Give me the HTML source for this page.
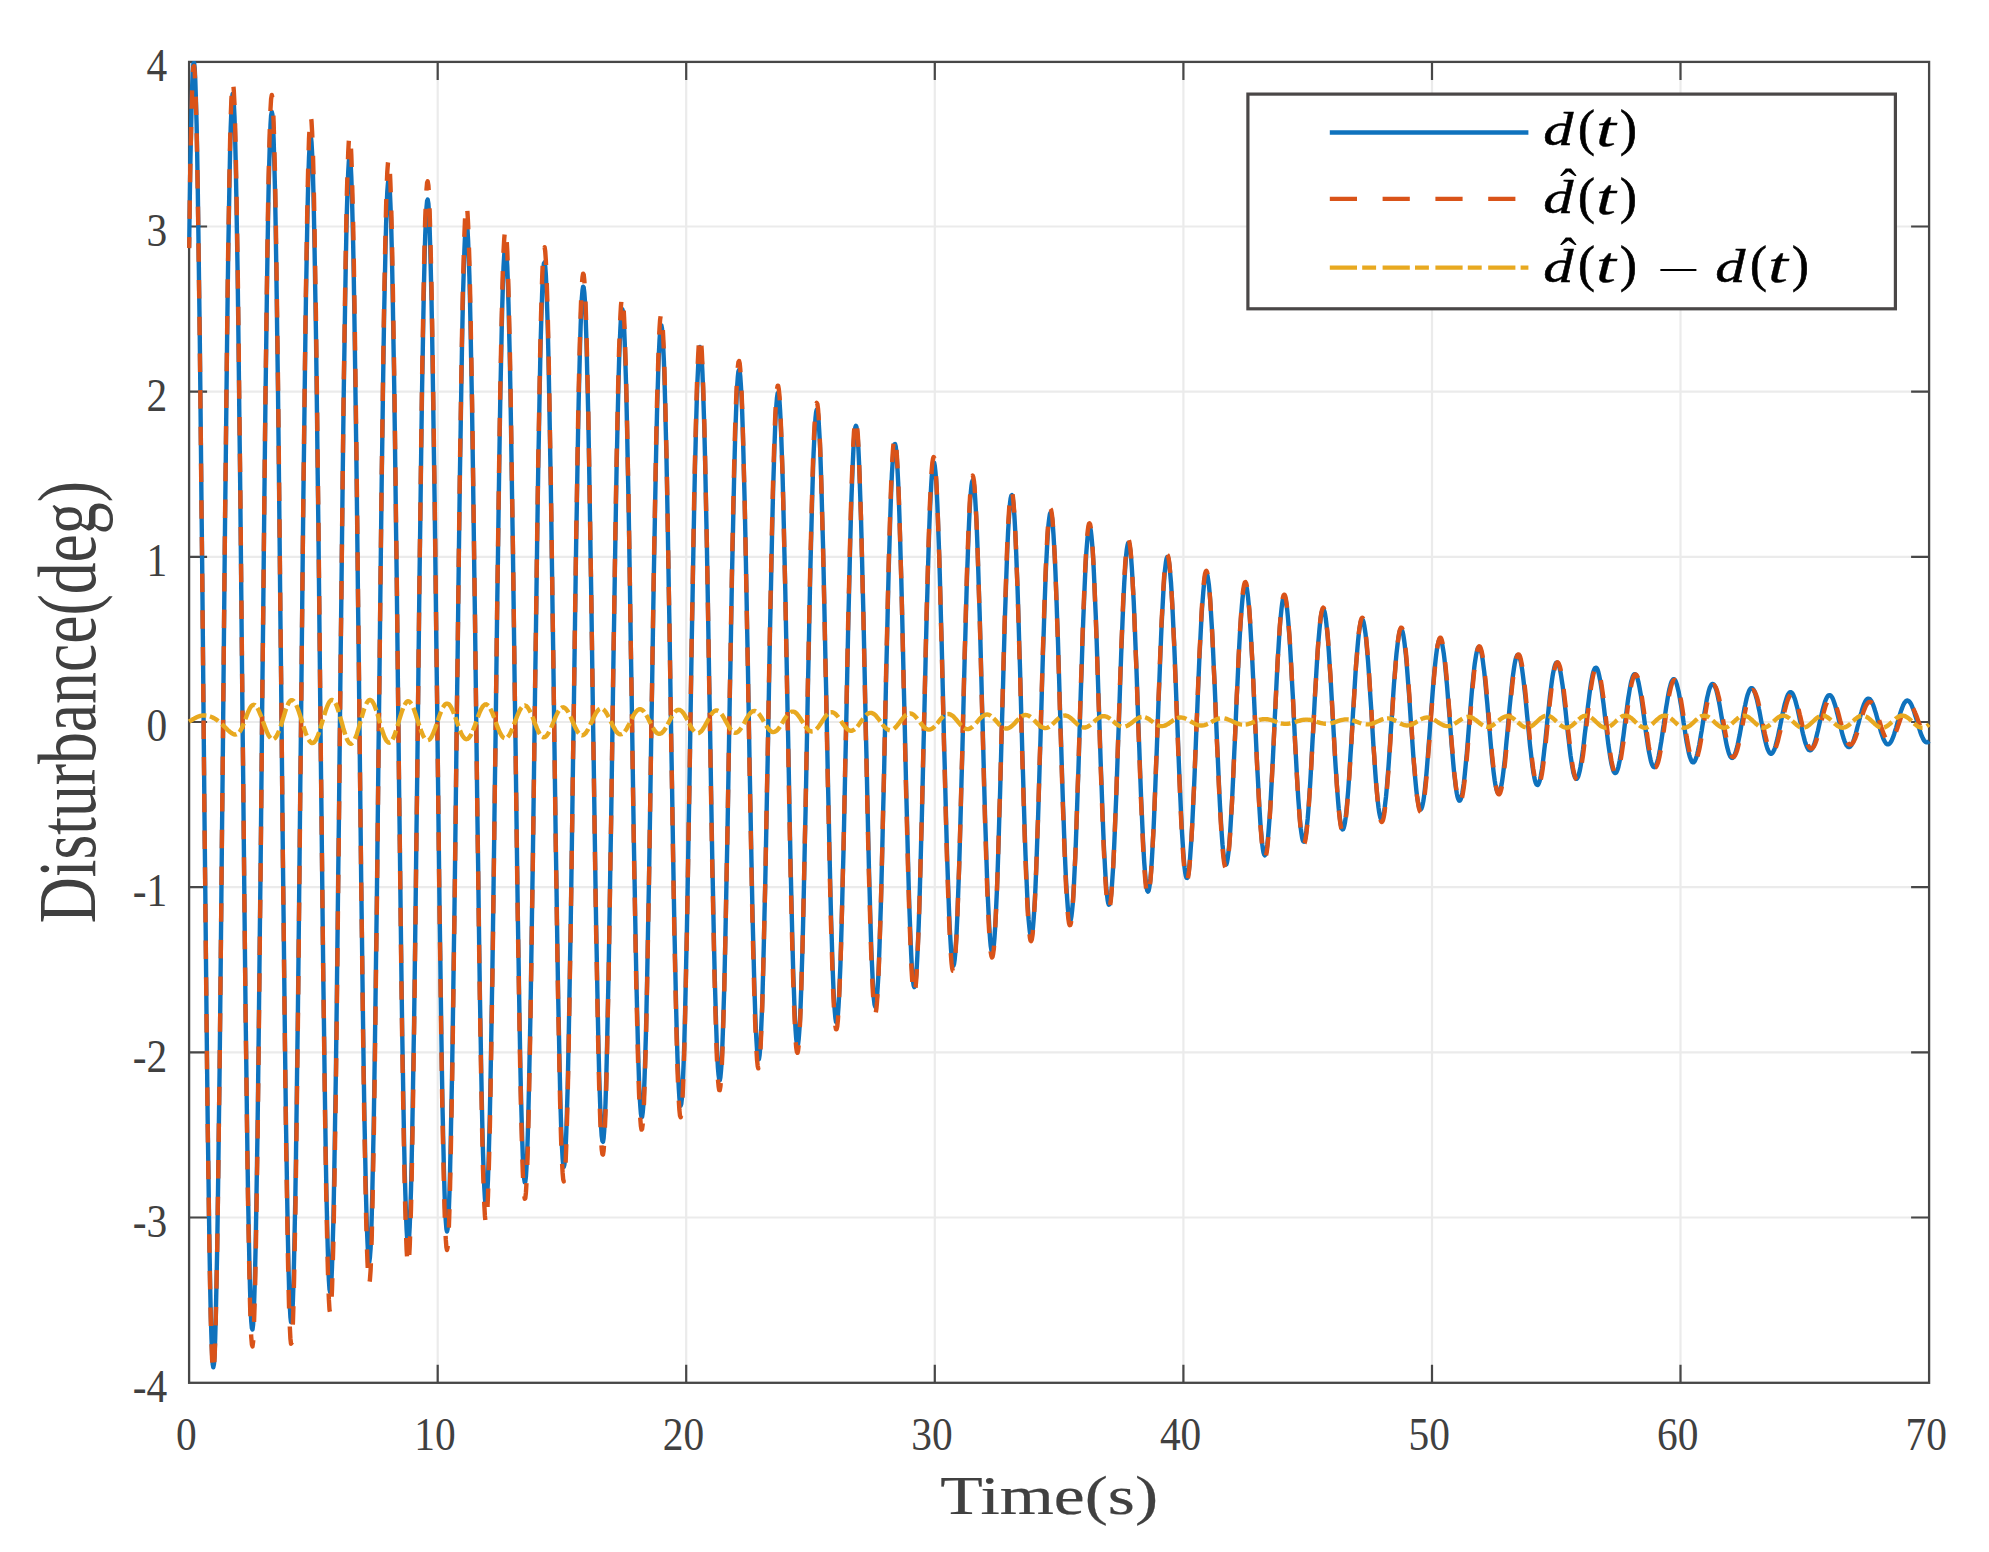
<!DOCTYPE html>
<html lang="en"><head><meta charset="utf-8"><title>Disturbance estimation</title>
<style>html,body{margin:0;padding:0;background:#fff}body{width:1989px;height:1552px;overflow:hidden}svg{display:block}.tk{font-family:"Liberation Serif",serif;font-size:46px;fill:#404040}.lb{font-family:"Liberation Serif",serif;fill:#404040}.mi{font-family:"Liberation Serif",serif;font-style:italic;fill:#000}.mr{font-family:"Liberation Serif",serif;fill:#000}</style></head><body>
<svg width="1989" height="1552" viewBox="0 0 1989 1552">
<rect width="1989" height="1552" fill="#fff"/>
<path d="M437.7 61.9V1382.8M686.2 61.9V1382.8M934.8 61.9V1382.8M1183.4 61.9V1382.8M1432.0 61.9V1382.8M1680.5 61.9V1382.8M189.1 1217.5H1929.1M189.1 1052.3H1929.1M189.1 887.1H1929.1M189.1 722.0H1929.1M189.1 556.9H1929.1M189.1 391.7H1929.1M189.1 226.5H1929.1" stroke="#ebebeb" stroke-width="2.2" fill="none"/>
<path d="M437.7 1382.8v-18M437.7 61.9v18M686.2 1382.8v-18M686.2 61.9v18M934.8 1382.8v-18M934.8 61.9v18M1183.4 1382.8v-18M1183.4 61.9v18M1432.0 1382.8v-18M1432.0 61.9v18M1680.5 1382.8v-18M1680.5 61.9v18M189.1 1217.5h18M1929.1 1217.5h-18M189.1 1052.3h18M1929.1 1052.3h-18M189.1 887.1h18M1929.1 887.1h-18M189.1 722.0h18M1929.1 722.0h-18M189.1 556.9h18M1929.1 556.9h-18M189.1 391.7h18M1929.1 391.7h-18M189.1 226.5h18M1929.1 226.5h-18" stroke="#474747" stroke-width="2.2" fill="none"/>
<rect x="189.1" y="61.9" width="1740.0" height="1320.9" fill="none" stroke="#474747" stroke-width="2.3"/>
<clipPath id="ax"><rect x="187.1" y="60.9" width="1744.0" height="1322.9"/></clipPath>
<g clip-path="url(#ax)" fill="none" stroke-linejoin="round">
<path d="M189.1 247.8L189.7 204.1L190.3 165.7L191.0 133.0L191.6 106.2L192.2 85.6L192.8 71.4L193.4 63.8L194.1 62.8L194.7 68.4L195.3 80.5L195.9 99.1L196.6 123.9L197.2 154.7L197.8 191.1L198.4 232.8L199.0 279.3L199.7 330.2L200.3 385.0L200.9 443.1L201.5 503.9L202.2 566.8L202.8 631.2L203.4 696.4L204.0 761.8L204.6 826.6L205.3 890.4L205.9 952.4L206.5 1011.9L207.1 1068.5L207.7 1121.5L208.4 1170.5L209.0 1214.8L209.6 1254.2L210.2 1288.1L210.8 1316.3L211.5 1338.6L212.1 1354.5L212.7 1364.1L213.3 1367.3L214.0 1363.9L214.6 1354.1L215.2 1338.0L215.8 1315.7L216.4 1287.5L217.1 1253.6L217.7 1214.5L218.3 1170.5L218.9 1122.1L219.6 1069.7L220.2 1013.9L220.8 955.3L221.4 894.4L222.0 831.9L222.7 768.4L223.3 704.6L223.9 641.0L224.5 578.3L225.1 517.2L225.8 458.3L226.4 402.1L227.0 349.2L227.6 300.2L228.2 255.5L228.9 215.5L229.5 180.7L230.1 151.4L230.7 127.9L231.4 110.4L232.0 99.1L232.6 94.0L233.2 95.3L233.8 102.9L234.5 116.7L235.1 136.7L235.7 162.4L236.3 193.8L236.9 230.4L237.6 271.8L238.2 317.7L238.8 367.5L239.4 420.7L240.1 476.8L240.7 535.2L241.3 595.3L241.9 656.5L242.5 718.2L243.2 779.8L243.8 840.6L244.4 900.1L245.0 957.6L245.6 1012.7L246.3 1064.8L246.9 1113.3L247.5 1157.8L248.1 1198.0L248.8 1233.3L249.4 1263.5L250.0 1288.3L250.6 1307.4L251.2 1320.8L251.9 1328.2L252.5 1329.5L253.1 1324.8L253.7 1314.1L254.3 1297.4L255.0 1275.0L255.6 1247.0L256.2 1213.7L256.8 1175.5L257.5 1132.8L258.1 1085.9L258.7 1035.3L259.3 981.6L259.9 925.3L260.6 866.9L261.2 807.0L261.8 746.2L262.4 685.2L263.1 624.5L263.7 564.8L264.3 506.6L264.9 450.6L265.5 397.3L266.2 347.3L266.8 301.0L267.4 258.9L268.0 221.5L268.6 189.0L269.3 162.0L269.9 140.6L270.5 125.0L271.1 115.4L271.8 111.9L272.4 114.6L273.0 123.5L273.6 138.3L274.2 159.1L274.9 185.5L275.5 217.3L276.1 254.2L276.7 295.7L277.3 341.6L278.0 391.2L278.6 444.1L279.2 499.8L279.8 557.6L280.4 617.1L281.1 677.5L281.7 738.3L282.3 798.9L282.9 858.6L283.6 916.8L284.2 973.1L284.8 1026.7L285.4 1077.2L286.0 1124.0L286.7 1166.8L287.3 1205.0L287.9 1238.3L288.5 1266.4L289.1 1289.1L289.8 1305.9L290.4 1317.0L291.0 1322.0L291.6 1321.0L292.3 1314.0L292.9 1301.0L293.5 1282.3L294.1 1257.9L294.7 1228.2L295.4 1193.4L296.0 1154.0L296.6 1110.2L297.2 1062.7L297.9 1011.8L298.5 958.0L299.1 902.0L299.7 844.3L300.3 785.4L301.0 726.0L301.6 666.6L302.2 607.9L302.8 550.5L303.4 494.9L304.1 441.6L304.7 391.3L305.3 344.3L305.9 301.3L306.6 262.5L307.2 228.4L307.8 199.3L308.4 175.6L309.0 157.3L309.7 144.7L310.3 137.9L310.9 137.0L311.5 142.0L312.1 152.8L312.8 169.4L313.4 191.4L314.0 218.7L314.6 251.1L315.2 288.1L315.9 329.4L316.5 374.5L317.1 423.1L317.7 474.6L318.4 528.4L319.0 584.1L319.6 641.1L320.2 698.7L320.8 756.5L321.5 813.9L322.1 870.2L322.7 924.9L323.3 977.5L324.0 1027.5L324.6 1074.3L325.2 1117.5L325.8 1156.7L326.4 1191.5L327.1 1221.5L327.7 1246.5L328.3 1266.3L328.9 1280.6L329.5 1289.3L330.2 1292.3L330.8 1289.6L331.4 1281.2L332.0 1267.2L332.6 1247.8L333.3 1223.2L333.9 1193.5L334.5 1159.1L335.1 1120.3L335.8 1077.6L336.4 1031.3L337.0 982.0L337.6 930.0L338.2 876.0L338.9 820.4L339.5 763.9L340.1 707.0L340.7 650.3L341.4 594.3L342.0 539.6L342.6 486.8L343.2 436.3L343.8 388.8L344.5 344.6L345.1 304.2L345.7 268.1L346.3 236.5L346.9 209.9L347.6 188.4L348.2 172.3L348.8 161.8L349.4 156.9L350.1 157.7L350.7 164.3L351.3 176.6L351.9 194.4L352.5 217.6L353.2 245.9L353.8 278.9L354.4 316.3L355.0 357.7L355.6 402.6L356.3 450.6L356.9 501.1L357.5 553.7L358.1 607.7L358.8 662.7L359.4 718.0L360.0 773.1L360.6 827.5L361.2 880.7L361.9 932.0L362.5 981.0L363.1 1027.3L363.7 1070.4L364.3 1109.9L365.0 1145.5L365.6 1176.7L366.2 1203.4L366.8 1225.3L367.5 1242.3L368.1 1254.0L368.7 1260.6L369.3 1261.9L369.9 1257.7L370.6 1248.3L371.2 1233.5L371.8 1213.6L372.4 1188.8L373.0 1159.3L373.7 1125.4L374.3 1087.5L374.9 1045.8L375.5 1000.9L376.1 953.2L376.8 903.2L377.4 851.3L378.0 798.1L378.6 744.1L379.3 689.8L379.9 635.9L380.5 582.8L381.1 531.1L381.7 481.3L382.4 433.9L383.0 389.3L383.6 348.1L384.2 310.7L384.9 277.3L385.5 248.5L386.1 224.4L386.7 205.3L387.3 191.4L388.0 182.8L388.6 179.7L389.2 182.0L389.8 189.9L390.4 203.3L391.1 221.9L391.7 245.6L392.3 274.2L392.9 307.2L393.5 344.3L394.2 385.2L394.8 429.4L395.4 476.4L396.0 525.7L396.7 576.8L397.3 629.2L397.9 682.4L398.5 735.7L399.1 788.8L399.8 841.0L400.4 891.8L401.0 940.7L401.6 987.3L402.2 1031.1L402.9 1071.7L403.5 1108.7L404.1 1141.8L404.7 1170.6L405.4 1195.0L406.0 1214.6L406.6 1229.4L407.2 1239.1L407.8 1243.8L408.5 1243.3L409.1 1237.6L409.7 1226.7L410.3 1210.7L411.0 1189.9L411.6 1164.3L412.2 1134.3L412.8 1100.2L413.4 1062.3L414.1 1020.9L414.7 976.5L415.3 929.6L415.9 880.6L416.5 830.0L417.2 778.3L417.8 726.0L418.4 673.7L419.0 621.9L419.6 571.1L420.3 521.8L420.9 474.5L421.5 429.7L422.1 387.8L422.8 349.3L423.4 314.5L424.0 283.8L424.6 257.5L425.2 235.9L425.9 219.1L426.5 207.4L427.1 200.9L427.7 199.6L428.4 203.6L429.0 212.9L429.6 227.3L430.2 246.7L430.8 270.9L431.5 299.7L432.1 332.7L432.7 369.6L433.3 410.0L433.9 453.4L434.6 499.6L435.2 547.8L435.8 597.8L436.4 648.9L437.1 700.6L437.7 752.4L438.3 803.9L438.9 854.4L439.5 903.4L440.2 950.6L440.8 995.3L441.4 1037.2L442.0 1075.9L442.6 1110.9L443.3 1141.9L443.9 1168.8L444.5 1191.0L445.1 1208.6L445.8 1221.3L446.4 1228.9L447.0 1231.5L447.6 1229.0L448.2 1221.4L448.9 1208.8L449.5 1191.4L450.1 1169.3L450.7 1142.7L451.3 1111.9L452.0 1077.3L452.6 1039.1L453.2 997.8L453.8 953.8L454.5 907.6L455.1 859.5L455.7 810.0L456.3 759.8L456.9 709.2L457.6 658.8L458.2 609.2L458.8 560.7L459.4 513.8L460.0 469.2L460.7 427.1L461.3 388.0L461.9 352.4L462.5 320.5L463.1 292.7L463.8 269.2L464.4 250.4L465.0 236.3L465.6 227.1L466.3 222.9L466.9 223.7L467.5 229.5L468.1 240.4L468.7 256.0L469.4 276.3L470.0 301.1L470.6 330.0L471.2 362.9L471.9 399.2L472.5 438.8L473.1 481.1L473.7 525.7L474.3 572.1L475.0 620.0L475.6 668.8L476.2 717.9L476.8 767.0L477.4 815.6L478.1 863.0L478.7 909.0L479.3 952.9L479.9 994.5L480.6 1033.2L481.2 1068.8L481.8 1100.8L482.4 1128.9L483.0 1152.9L483.7 1172.6L484.3 1187.7L484.9 1198.2L485.5 1203.9L486.1 1204.8L486.8 1200.9L487.4 1192.2L488.0 1178.8L488.6 1160.8L489.2 1138.5L489.9 1112.0L490.5 1081.6L491.1 1047.6L491.7 1010.5L492.4 970.4L493.0 927.9L493.6 883.4L494.2 837.2L494.8 790.0L495.5 742.1L496.1 694.0L496.7 646.3L497.3 599.3L498.0 553.6L498.6 509.7L499.2 467.9L499.8 428.7L500.4 392.4L501.1 359.5L501.7 330.3L502.3 305.1L502.9 284.1L503.5 267.5L504.2 255.5L504.8 248.2L505.4 245.7L506.0 248.0L506.6 255.1L507.3 267.0L507.9 283.4L508.5 304.2L509.1 329.2L509.8 358.1L510.4 390.6L511.0 426.4L511.6 465.0L512.2 506.2L512.9 549.3L513.5 594.1L514.1 640.1L514.7 686.7L515.4 733.6L516.0 780.2L516.6 826.1L517.2 870.8L517.8 914.0L518.5 955.1L519.1 993.8L519.7 1029.7L520.3 1062.4L520.9 1091.7L521.6 1117.3L522.2 1138.9L522.8 1156.3L523.4 1169.4L524.1 1178.1L524.7 1182.2L525.3 1181.8L525.9 1176.8L526.5 1167.2L527.2 1153.1L527.8 1134.7L528.4 1112.2L529.0 1085.8L529.6 1055.7L530.3 1022.3L530.9 985.8L531.5 946.7L532.1 905.4L532.8 862.2L533.4 817.6L534.0 772.1L534.6 726.0L535.2 680.0L535.9 634.3L536.5 589.5L537.1 546.1L537.7 504.4L538.3 465.0L539.0 428.1L539.6 394.1L540.2 363.5L540.8 336.5L541.5 313.3L542.1 294.3L542.7 279.5L543.3 269.2L543.9 263.5L544.6 262.4L545.2 265.9L545.8 274.1L546.4 286.8L547.0 303.9L547.7 325.2L548.3 350.6L548.9 379.6L549.5 412.0L550.1 447.6L550.8 485.8L551.4 526.3L552.0 568.7L552.6 612.6L553.3 657.4L553.9 702.8L554.5 748.2L555.1 793.3L555.7 837.5L556.4 880.4L557.0 921.7L557.6 960.8L558.2 997.4L558.9 1031.2L559.5 1061.8L560.1 1088.9L560.7 1112.2L561.3 1131.7L562.0 1147.0L562.6 1158.0L563.2 1164.7L563.8 1166.9L564.4 1164.7L565.1 1158.1L565.7 1147.1L566.3 1131.9L566.9 1112.6L567.6 1089.4L568.2 1062.6L568.8 1032.4L569.4 999.1L570.0 963.1L570.7 924.7L571.3 884.3L571.9 842.4L572.5 799.3L573.1 755.4L573.8 711.3L574.4 667.4L575.0 624.0L575.6 581.7L576.2 540.8L576.9 501.8L577.5 465.1L578.1 431.0L578.7 399.9L579.4 372.1L580.0 347.8L580.6 327.3L581.2 310.8L581.8 298.5L582.5 290.4L583.1 286.7L583.7 287.4L584.3 292.5L585.0 301.9L585.6 315.6L586.2 333.3L586.8 354.9L587.4 380.1L588.1 408.7L588.7 440.4L589.3 474.8L589.9 511.7L590.5 550.5L591.2 591.0L591.8 632.7L592.4 675.2L593.0 718.0L593.7 760.8L594.3 803.0L594.9 844.4L595.5 884.4L596.1 922.6L596.8 958.8L597.4 992.5L598.0 1023.4L598.6 1051.3L599.2 1075.7L599.9 1096.6L600.5 1113.8L601.1 1126.9L601.7 1136.0L602.4 1141.0L603.0 1141.8L603.6 1138.4L604.2 1130.8L604.8 1119.1L605.5 1103.5L606.1 1084.1L606.7 1061.1L607.3 1034.7L607.9 1005.2L608.6 972.9L609.2 938.1L609.8 901.2L610.4 862.5L611.1 822.5L611.7 781.5L612.3 739.9L612.9 698.1L613.5 656.7L614.2 615.9L614.8 576.2L615.4 538.1L616.0 501.8L616.6 467.8L617.3 436.3L617.9 407.8L618.5 382.5L619.1 360.6L619.8 342.4L620.4 328.0L621.0 317.6L621.6 311.3L622.2 309.1L622.9 311.1L623.5 317.3L624.1 327.7L624.7 341.9L625.3 360.1L626.0 381.8L626.6 406.9L627.2 435.1L627.8 466.1L628.5 499.6L629.1 535.2L629.7 572.5L630.3 611.2L630.9 650.9L631.6 691.2L632.2 731.6L632.8 771.7L633.4 811.2L634.0 849.7L634.7 886.8L635.3 922.1L635.9 955.3L636.5 986.1L637.2 1014.2L637.8 1039.4L638.4 1061.3L639.0 1079.8L639.6 1094.8L640.3 1106.1L640.9 1113.6L641.5 1117.2L642.1 1116.9L642.7 1112.7L643.4 1104.5L644.0 1092.5L644.6 1076.8L645.2 1057.5L645.9 1034.9L646.5 1009.1L647.1 980.4L647.7 949.2L648.3 915.6L649.0 880.1L649.6 843.0L650.2 804.7L650.8 765.5L651.4 725.9L652.1 686.2L652.7 646.9L653.3 608.3L653.9 570.9L654.6 534.9L655.2 500.9L655.8 469.0L656.4 439.7L657.0 413.2L657.7 389.8L658.3 369.8L658.9 353.3L659.5 340.5L660.1 331.5L660.8 326.5L661.4 325.4L662.0 328.4L662.6 335.4L663.2 346.3L663.9 361.0L664.5 379.3L665.1 401.1L665.7 426.2L666.4 454.2L667.0 484.8L667.6 517.8L668.2 552.7L668.8 589.3L669.5 627.2L670.1 665.8L670.7 705.0L671.3 744.2L672.0 783.1L672.6 821.3L673.2 858.3L673.8 893.9L674.4 927.7L675.1 959.3L675.7 988.4L676.3 1014.8L676.9 1038.2L677.5 1058.4L678.2 1075.2L678.8 1088.4L679.4 1097.9L680.0 1103.7L680.7 1105.7L681.3 1103.8L681.9 1098.1L682.5 1088.7L683.1 1075.6L683.8 1059.0L684.4 1039.0L685.0 1015.9L685.6 989.9L686.2 961.2L686.9 930.2L687.5 897.1L688.1 862.3L688.7 826.2L689.4 789.0L690.0 751.2L690.6 713.2L691.2 675.3L691.8 637.9L692.5 601.4L693.1 566.2L693.7 532.5L694.3 500.9L694.9 471.5L695.6 444.6L696.2 420.6L696.8 399.6L697.4 382.0L698.1 367.7L698.7 357.1L699.3 350.2L699.9 347.0L700.5 347.6L701.2 352.0L701.8 360.1L702.4 371.9L703.0 387.2L703.6 405.8L704.3 427.6L704.9 452.3L705.5 479.6L706.1 509.3L706.8 541.0L707.4 574.4L708.0 609.2L708.6 645.0L709.2 681.5L709.9 718.2L710.5 754.9L711.1 791.0L711.7 826.4L712.3 860.6L713.0 893.3L713.6 924.2L714.2 953.0L714.8 979.4L715.5 1003.1L716.1 1024.0L716.7 1041.8L717.3 1056.3L717.9 1067.5L718.6 1075.3L719.2 1079.5L719.8 1080.2L720.4 1077.3L721.0 1070.9L721.7 1061.0L722.3 1047.7L722.9 1031.1L723.5 1011.5L724.2 989.0L724.8 963.9L725.4 936.4L726.0 906.7L726.6 875.2L727.3 842.2L727.9 808.1L728.5 773.1L729.1 737.6L729.7 702.0L730.4 666.6L731.0 631.8L731.6 598.0L732.2 565.4L732.9 534.5L733.5 505.4L734.1 478.6L734.7 454.2L735.3 432.5L736.0 413.8L736.6 398.2L737.2 385.9L737.8 377.0L738.4 371.6L739.1 369.7L739.7 371.4L740.3 376.6L740.9 385.3L741.6 397.4L742.2 412.8L742.8 431.2L743.4 452.6L744.0 476.6L744.7 503.0L745.3 531.5L745.9 561.9L746.5 593.7L747.1 626.8L747.8 660.8L748.4 695.2L749.0 729.8L749.6 764.3L750.3 798.2L750.9 831.2L751.5 863.0L752.1 893.3L752.7 921.8L753.4 948.3L754.0 972.4L754.6 993.9L755.2 1012.6L755.8 1028.4L756.5 1041.1L757.1 1050.5L757.7 1056.7L758.3 1059.6L759.0 1059.0L759.6 1055.1L760.2 1047.9L760.8 1037.4L761.4 1023.7L762.1 1007.1L762.7 987.6L763.3 965.5L763.9 941.1L764.5 914.4L765.2 885.9L765.8 855.8L766.4 824.4L767.0 792.0L767.7 759.0L768.3 725.6L768.9 692.3L769.5 659.3L770.1 627.0L770.8 595.7L771.4 565.7L772.0 537.3L772.6 510.9L773.2 486.5L773.9 464.6L774.5 445.3L775.1 428.8L775.7 415.2L776.4 404.8L777.0 397.5L777.6 393.5L778.2 392.8L778.8 395.4L779.5 401.3L780.1 410.4L780.7 422.6L781.3 437.8L781.9 455.8L782.6 476.4L783.2 499.5L783.8 524.8L784.4 552.1L785.1 581.0L785.7 611.3L786.3 642.7L786.9 674.9L787.5 707.5L788.2 740.2L788.8 772.7L789.4 804.6L790.0 835.7L790.6 865.6L791.3 894.1L791.9 920.8L792.5 945.4L793.1 967.8L793.8 987.7L794.4 1004.8L795.0 1019.1L795.6 1030.5L796.2 1038.6L796.9 1043.6L797.5 1045.4L798.1 1043.9L798.7 1039.1L799.3 1031.2L800.0 1020.1L800.6 1006.1L801.2 989.3L801.8 969.7L802.5 947.8L803.1 923.6L803.7 897.4L804.3 869.5L804.9 840.2L805.6 809.8L806.2 778.6L806.8 746.8L807.4 714.9L808.0 683.2L808.7 651.9L809.3 621.3L809.9 591.9L810.5 563.8L811.2 537.4L811.8 512.9L812.4 490.6L813.0 470.6L813.6 453.2L814.3 438.6L814.9 426.8L815.5 418.0L816.1 412.3L816.7 409.7L817.4 410.2L818.0 413.9L818.6 420.7L819.2 430.4L819.9 443.1L820.5 458.6L821.1 476.7L821.7 497.2L822.3 519.9L823.0 544.5L823.6 570.9L824.2 598.7L824.8 627.6L825.4 657.5L826.1 687.9L826.7 718.5L827.3 749.1L827.9 779.4L828.6 808.9L829.2 837.6L829.8 865.0L830.4 890.9L831.0 915.0L831.7 937.2L832.3 957.2L832.9 974.8L833.5 989.8L834.1 1002.1L834.8 1011.6L835.4 1018.2L836.0 1021.8L836.6 1022.5L837.3 1020.1L837.9 1014.8L838.5 1006.5L839.1 995.4L839.7 981.6L840.4 965.2L841.0 946.3L841.6 925.3L842.2 902.2L842.8 877.3L843.5 850.9L844.1 823.3L844.7 794.6L845.3 765.2L846.0 735.4L846.6 705.5L847.2 675.8L847.8 646.6L848.4 618.1L849.1 590.7L849.7 564.7L850.3 540.2L850.9 517.6L851.5 497.1L852.2 478.9L852.8 463.1L853.4 449.9L854.0 439.5L854.7 432.0L855.3 427.4L855.9 425.7L856.5 427.1L857.1 431.4L857.8 438.7L858.4 448.8L859.0 461.7L859.6 477.1L860.2 495.0L860.9 515.2L861.5 537.3L862.1 561.3L862.7 586.9L863.4 613.7L864.0 641.6L864.6 670.1L865.2 699.1L865.8 728.3L866.5 757.3L867.1 785.9L867.7 813.7L868.3 840.6L868.9 866.2L869.6 890.2L870.2 912.5L870.8 932.9L871.4 951.0L872.1 966.9L872.7 980.2L873.3 991.0L873.9 999.0L874.5 1004.3L875.2 1006.7L875.8 1006.3L876.4 1003.1L877.0 997.0L877.6 988.2L878.3 976.8L878.9 962.8L879.5 946.4L880.1 927.8L880.8 907.2L881.4 884.8L882.0 860.7L882.6 835.3L883.2 808.8L883.9 781.4L884.5 753.5L885.1 725.4L885.7 697.2L886.3 669.3L887.0 641.9L887.6 615.5L888.2 590.1L888.8 566.1L889.5 543.6L890.1 523.1L890.7 504.5L891.3 488.2L891.9 474.2L892.6 462.8L893.2 453.9L893.8 447.9L894.4 444.5L895.0 444.0L895.7 446.3L896.3 451.4L896.9 459.2L897.5 469.6L898.2 482.6L898.8 498.0L899.4 515.5L900.0 535.1L900.6 556.5L901.3 579.5L901.9 603.9L902.5 629.3L903.1 655.6L903.7 682.5L904.4 709.6L905.0 736.8L905.6 763.8L906.2 790.2L906.9 815.9L907.5 840.5L908.1 863.9L908.7 885.7L909.3 905.9L910.0 924.1L910.6 940.3L911.2 954.3L911.8 965.9L912.4 975.0L913.1 981.7L913.7 985.7L914.3 987.1L914.9 985.8L915.6 981.9L916.2 975.5L916.8 966.5L917.4 955.1L918.0 941.3L918.7 925.4L919.3 907.5L919.9 887.7L920.5 866.3L921.1 843.5L921.8 819.5L922.4 794.5L923.0 768.9L923.6 742.7L924.3 716.4L924.9 690.2L925.5 664.4L926.1 639.1L926.7 614.7L927.4 591.4L928.0 569.5L928.6 549.1L929.2 530.5L929.8 513.8L930.5 499.2L931.1 486.9L931.7 477.1L932.3 469.6L933.0 464.8L933.6 462.5L934.2 462.9L934.8 466.0L935.4 471.6L936.1 479.8L936.7 490.4L937.3 503.4L937.9 518.5L938.5 535.6L939.2 554.5L939.8 575.1L940.4 597.0L941.0 620.1L941.7 644.0L942.3 668.7L942.9 693.7L943.5 718.9L944.1 744.0L944.8 768.7L945.4 792.8L946.0 816.1L946.6 838.4L947.2 859.3L947.9 878.9L948.5 896.8L949.1 912.9L949.7 927.0L950.4 939.1L951.0 949.0L951.6 956.6L952.2 962.0L952.8 964.9L953.5 965.5L954.1 963.7L954.7 959.4L955.3 952.8L955.9 943.9L956.6 932.7L957.2 919.5L957.8 904.3L958.4 887.2L959.1 868.5L959.7 848.4L960.3 827.0L960.9 804.5L961.5 781.2L962.2 757.4L962.8 733.2L963.4 708.8L964.0 684.7L964.6 660.9L965.3 637.7L965.9 615.4L966.5 594.1L967.1 574.2L967.8 555.7L968.4 538.9L969.0 524.0L969.6 511.1L970.2 500.3L970.9 491.7L971.5 485.5L972.1 481.7L972.7 480.2L973.3 481.3L974.0 484.7L974.6 490.6L975.2 498.9L975.8 509.4L976.5 522.0L977.1 536.7L977.7 553.1L978.3 571.3L978.9 590.9L979.6 611.7L980.2 633.6L980.8 656.3L981.4 679.6L982.0 703.2L982.7 726.9L983.3 750.4L983.9 773.6L984.5 796.2L985.1 817.9L985.8 838.6L986.4 858.0L987.0 876.1L987.6 892.5L988.3 907.2L988.9 919.9L989.5 930.7L990.1 939.4L990.7 945.9L991.4 950.2L992.0 952.2L992.6 952.0L993.2 949.4L993.9 944.6L994.5 937.5L995.1 928.3L995.7 917.1L996.3 903.9L997.0 888.9L997.6 872.3L998.2 854.1L998.8 834.7L999.4 814.1L1000.1 792.6L1000.7 770.5L1001.3 747.8L1001.9 725.0L1002.6 702.1L1003.2 679.4L1003.8 657.2L1004.4 635.6L1005.0 614.9L1005.7 595.3L1006.3 577.0L1006.9 560.2L1007.5 545.0L1008.1 531.6L1008.8 520.2L1009.4 510.8L1010.0 503.5L1010.6 498.5L1011.3 495.7L1011.9 495.2L1012.5 497.0L1013.1 501.1L1013.7 507.4L1014.4 515.9L1015.0 526.5L1015.6 539.0L1016.2 553.3L1016.8 569.3L1017.5 586.8L1018.1 605.6L1018.7 625.5L1019.3 646.2L1020.0 667.7L1020.6 689.6L1021.2 711.7L1021.8 733.8L1022.4 755.8L1023.1 777.2L1023.7 798.1L1024.3 818.1L1024.9 837.0L1025.5 854.7L1026.2 871.0L1026.8 885.8L1027.4 898.9L1028.0 910.1L1028.6 919.5L1029.3 926.9L1029.9 932.2L1030.5 935.4L1031.1 936.5L1031.8 935.5L1032.4 932.4L1033.0 927.1L1033.6 919.8L1034.2 910.6L1034.9 899.5L1035.5 886.6L1036.1 872.1L1036.7 856.1L1037.3 838.8L1038.0 820.4L1038.6 801.0L1039.2 780.8L1039.8 760.1L1040.5 739.0L1041.1 717.7L1041.7 696.6L1042.3 675.7L1042.9 655.3L1043.6 635.6L1044.2 616.8L1044.8 599.1L1045.4 582.6L1046.0 567.6L1046.7 554.1L1047.3 542.4L1047.9 532.4L1048.5 524.5L1049.2 518.5L1049.8 514.5L1050.4 512.7L1051.0 513.0L1051.6 515.4L1052.3 519.9L1052.9 526.5L1053.5 534.9L1054.1 545.3L1054.8 557.4L1055.4 571.2L1056.0 586.4L1056.6 602.9L1057.2 620.6L1057.9 639.2L1058.5 658.6L1059.1 678.5L1059.7 698.8L1060.3 719.3L1061.0 739.7L1061.6 759.8L1062.2 779.5L1062.8 798.5L1063.5 816.7L1064.1 833.9L1064.7 849.9L1065.3 864.6L1065.9 877.8L1066.6 889.5L1067.2 899.4L1067.8 907.5L1068.4 913.8L1069.0 918.1L1069.7 920.5L1070.3 920.9L1070.9 919.4L1071.5 915.8L1072.1 910.4L1072.8 903.0L1073.4 893.9L1074.0 883.1L1074.6 870.6L1075.3 856.7L1075.9 841.5L1076.5 825.0L1077.1 807.6L1077.7 789.3L1078.4 770.4L1079.0 751.0L1079.6 731.3L1080.2 711.5L1080.8 691.9L1081.5 672.6L1082.1 653.8L1082.7 635.7L1083.3 618.5L1084.0 602.3L1084.6 587.4L1085.2 573.9L1085.8 561.8L1086.4 551.4L1087.1 542.7L1087.7 535.9L1088.3 530.9L1088.9 527.9L1089.5 526.8L1090.2 527.7L1090.8 530.6L1091.4 535.4L1092.0 542.2L1092.7 550.7L1093.3 561.0L1093.9 572.8L1094.5 586.2L1095.1 600.8L1095.8 616.6L1096.4 633.4L1097.0 651.0L1097.6 669.2L1098.2 687.8L1098.9 706.8L1099.5 725.7L1100.1 744.5L1100.7 763.0L1101.4 781.0L1102.0 798.3L1102.6 814.8L1103.2 830.2L1103.8 844.5L1104.5 857.5L1105.1 869.1L1105.7 879.3L1106.3 887.8L1107.0 894.6L1107.6 899.8L1108.2 903.1L1108.8 904.7L1109.4 904.5L1110.1 902.4L1110.7 898.6L1111.3 893.0L1111.9 885.7L1112.5 876.8L1113.2 866.3L1113.8 854.4L1114.4 841.2L1115.0 826.8L1115.6 811.4L1116.3 795.1L1116.9 778.1L1117.5 760.6L1118.1 742.6L1118.8 724.5L1119.4 706.4L1120.0 688.4L1120.6 670.8L1121.2 653.8L1121.9 637.4L1122.5 621.9L1123.1 607.4L1123.7 594.1L1124.3 582.1L1125.0 571.5L1125.6 562.5L1126.2 555.0L1126.8 549.3L1127.5 545.3L1128.1 543.1L1128.7 542.7L1129.3 544.1L1129.9 547.4L1130.6 552.4L1131.2 559.1L1131.8 567.4L1132.4 577.3L1133.0 588.6L1133.7 601.2L1134.3 615.0L1134.9 629.9L1135.5 645.6L1136.2 662.0L1136.8 678.9L1137.4 696.2L1138.0 713.7L1138.6 731.2L1139.3 748.5L1139.9 765.5L1140.5 782.0L1141.1 797.8L1141.8 812.8L1142.4 826.8L1143.0 839.7L1143.6 851.4L1144.2 861.8L1144.9 870.7L1145.5 878.1L1146.1 884.0L1146.7 888.2L1147.3 890.7L1148.0 891.6L1148.6 890.8L1149.2 888.3L1149.8 884.2L1150.5 878.4L1151.1 871.1L1151.7 862.3L1152.3 852.2L1152.9 840.7L1153.6 828.1L1154.2 814.4L1154.8 799.9L1155.4 784.5L1156.0 768.6L1156.7 752.2L1157.3 735.6L1157.9 718.8L1158.5 702.1L1159.2 685.6L1159.8 669.5L1160.4 654.0L1161.0 639.1L1161.6 625.2L1162.3 612.2L1162.9 600.3L1163.5 589.7L1164.1 580.5L1164.7 572.6L1165.4 566.4L1166.0 561.6L1166.6 558.5L1167.2 557.1L1167.8 557.3L1168.5 559.2L1169.1 562.8L1169.7 567.9L1170.3 574.6L1171.0 582.7L1171.6 592.3L1172.2 603.1L1172.8 615.0L1173.4 628.0L1174.1 641.9L1174.7 656.6L1175.3 671.8L1175.9 687.6L1176.5 703.6L1177.2 719.7L1177.8 735.7L1178.4 751.6L1179.0 767.1L1179.7 782.1L1180.3 796.5L1180.9 810.0L1181.5 822.6L1182.1 834.2L1182.8 844.6L1183.4 853.7L1184.0 861.4L1184.6 867.8L1185.2 872.6L1185.9 876.0L1186.5 877.8L1187.1 878.0L1187.7 876.7L1188.4 873.8L1189.0 869.4L1189.6 863.5L1190.2 856.3L1190.8 847.7L1191.5 837.9L1192.1 827.0L1192.7 815.0L1193.3 802.1L1194.0 788.5L1194.6 774.3L1195.2 759.6L1195.8 744.5L1196.4 729.3L1197.1 714.1L1197.7 698.9L1198.3 684.1L1198.9 669.7L1199.5 655.8L1200.2 642.7L1200.8 630.4L1201.4 619.0L1202.0 608.7L1202.7 599.6L1203.3 591.8L1203.9 585.2L1204.5 580.1L1205.1 576.3L1205.8 574.1L1206.4 573.4L1207.0 574.1L1207.6 576.3L1208.2 580.0L1208.9 585.1L1209.5 591.5L1210.1 599.2L1210.7 608.2L1211.3 618.2L1212.0 629.3L1212.6 641.3L1213.2 654.0L1213.8 667.4L1214.5 681.3L1215.1 695.6L1215.7 710.1L1216.3 724.7L1216.9 739.2L1217.6 753.5L1218.2 767.5L1218.8 781.0L1219.4 793.8L1220.0 805.9L1220.7 817.1L1221.3 827.4L1221.9 836.5L1222.5 844.5L1223.2 851.2L1223.8 856.7L1224.4 860.7L1225.0 863.4L1225.6 864.6L1226.3 864.4L1226.9 862.8L1227.5 859.7L1228.1 855.3L1228.8 849.6L1229.4 842.6L1230.0 834.4L1230.6 825.1L1231.2 814.7L1231.9 803.5L1232.5 791.5L1233.1 778.8L1233.7 765.6L1234.3 752.0L1235.0 738.1L1235.6 724.1L1236.2 710.1L1236.8 696.2L1237.5 682.7L1238.1 669.6L1238.7 657.0L1239.3 645.1L1239.9 634.0L1240.6 623.8L1241.2 614.6L1241.8 606.6L1242.4 599.7L1243.0 594.0L1243.7 589.6L1244.3 586.6L1244.9 584.9L1245.5 584.6L1246.2 585.7L1246.8 588.2L1247.4 592.0L1248.0 597.0L1248.6 603.3L1249.3 610.8L1249.9 619.4L1250.5 629.0L1251.1 639.6L1251.7 650.9L1252.4 662.9L1253.0 675.5L1253.6 688.5L1254.2 701.9L1254.8 715.4L1255.5 729.0L1256.1 742.5L1256.7 755.7L1257.3 768.6L1258.0 781.0L1258.6 792.8L1259.2 803.8L1259.8 814.0L1260.4 823.3L1261.1 831.5L1261.7 838.6L1262.3 844.5L1262.9 849.2L1263.5 852.5L1264.2 854.6L1264.8 855.3L1265.4 854.6L1266.0 852.7L1266.7 849.4L1267.3 844.8L1267.9 839.0L1268.5 832.0L1269.1 824.0L1269.8 814.9L1270.4 805.0L1271.0 794.2L1271.6 782.8L1272.2 770.8L1272.9 758.4L1273.5 745.6L1274.1 732.7L1274.7 719.7L1275.4 706.7L1276.0 694.0L1276.6 681.7L1277.2 669.8L1277.8 658.4L1278.5 647.8L1279.1 637.9L1279.7 628.9L1280.3 620.9L1281.0 613.9L1281.6 608.0L1282.2 603.3L1282.8 599.8L1283.4 597.6L1284.1 596.5L1284.7 596.8L1285.3 598.2L1285.9 600.9L1286.5 604.9L1287.2 609.9L1287.8 616.1L1288.4 623.3L1289.0 631.5L1289.7 640.6L1290.3 650.4L1290.9 661.0L1291.5 672.1L1292.1 683.7L1292.8 695.6L1293.4 707.8L1294.0 720.1L1294.6 732.4L1295.2 744.5L1295.9 756.4L1296.5 767.8L1297.1 778.8L1297.7 789.2L1298.3 798.9L1299.0 807.8L1299.6 815.8L1300.2 822.8L1300.8 828.8L1301.5 833.7L1302.1 837.5L1302.7 840.1L1303.3 841.5L1303.9 841.7L1304.6 840.7L1305.2 838.5L1305.8 835.1L1306.4 830.6L1307.0 825.0L1307.7 818.4L1308.3 810.9L1308.9 802.5L1309.5 793.3L1310.2 783.5L1310.8 773.0L1311.4 762.1L1312.0 750.9L1312.6 739.3L1313.3 727.7L1313.9 716.1L1314.5 704.5L1315.1 693.2L1315.8 682.2L1316.4 671.7L1317.0 661.7L1317.6 652.3L1318.2 643.7L1318.9 635.9L1319.5 629.0L1320.1 623.0L1320.7 618.1L1321.3 614.2L1322.0 611.4L1322.6 609.7L1323.2 609.2L1323.8 609.8L1324.5 611.5L1325.1 614.3L1325.7 618.1L1326.3 623.0L1326.9 628.9L1327.6 635.7L1328.2 643.3L1328.8 651.7L1329.4 660.8L1330.0 670.5L1330.7 680.6L1331.3 691.1L1331.9 701.9L1332.5 712.9L1333.2 723.9L1333.8 734.9L1334.4 745.7L1335.0 756.3L1335.6 766.4L1336.3 776.1L1336.9 785.2L1337.5 793.7L1338.1 801.4L1338.7 808.3L1339.4 814.3L1340.0 819.4L1340.6 823.4L1341.2 826.5L1341.8 828.5L1342.5 829.4L1343.1 829.2L1343.7 828.0L1344.3 825.7L1345.0 822.3L1345.6 818.0L1346.2 812.7L1346.8 806.6L1347.4 799.6L1348.1 791.8L1348.7 783.4L1349.3 774.3L1349.9 764.8L1350.5 754.9L1351.2 744.6L1351.8 734.2L1352.4 723.7L1353.0 713.2L1353.7 702.8L1354.3 692.6L1354.9 682.8L1355.5 673.4L1356.1 664.5L1356.8 656.2L1357.4 648.6L1358.0 641.7L1358.6 635.7L1359.2 630.5L1359.9 626.3L1360.5 623.1L1361.1 620.9L1361.7 619.7L1362.4 619.5L1363.0 620.3L1363.6 622.2L1364.2 625.1L1364.8 628.9L1365.5 633.6L1366.1 639.3L1366.7 645.7L1367.3 652.9L1368.0 660.7L1368.6 669.2L1369.2 678.1L1369.8 687.5L1370.4 697.1L1371.1 707.0L1371.7 717.0L1372.3 727.1L1372.9 737.0L1373.5 746.8L1374.2 756.2L1374.8 765.4L1375.4 774.0L1376.0 782.1L1376.7 789.6L1377.3 796.3L1377.9 802.3L1378.5 807.5L1379.1 811.8L1379.8 815.2L1380.4 817.6L1381.0 819.1L1381.6 819.6L1382.2 819.1L1382.9 817.6L1383.5 815.2L1384.1 811.9L1384.7 807.7L1385.3 802.6L1386.0 796.7L1386.6 790.1L1387.2 782.8L1387.8 775.0L1388.5 766.6L1389.1 757.9L1389.7 748.8L1390.3 739.4L1390.9 729.9L1391.6 720.4L1392.2 710.9L1392.8 701.5L1393.4 692.4L1394.0 683.6L1394.7 675.3L1395.3 667.4L1395.9 660.1L1396.5 653.5L1397.2 647.5L1397.8 642.3L1398.4 638.0L1399.0 634.5L1399.6 631.9L1400.3 630.2L1400.9 629.4L1401.5 629.5L1402.1 630.6L1402.8 632.6L1403.4 635.5L1404.0 639.3L1404.6 643.8L1405.2 649.2L1405.9 655.2L1406.5 661.9L1407.1 669.2L1407.7 677.0L1408.3 685.2L1409.0 693.7L1409.6 702.5L1410.2 711.5L1410.8 720.5L1411.5 729.5L1412.1 738.4L1412.7 747.1L1413.3 755.6L1413.9 763.6L1414.6 771.2L1415.2 778.3L1415.8 784.8L1416.4 790.7L1417.0 795.8L1417.7 800.2L1418.3 803.7L1418.9 806.5L1419.5 808.4L1420.2 809.4L1420.8 809.5L1421.4 808.7L1422.0 807.1L1422.6 804.7L1423.3 801.4L1423.9 797.3L1424.5 792.5L1425.1 787.0L1425.7 780.9L1426.4 774.2L1427.0 767.0L1427.6 759.4L1428.2 751.4L1428.8 743.2L1429.5 734.8L1430.1 726.3L1430.7 717.7L1431.3 709.3L1432.0 701.0L1432.6 693.0L1433.2 685.2L1433.8 677.9L1434.4 671.0L1435.1 664.7L1435.7 658.9L1436.3 653.9L1436.9 649.5L1437.5 645.8L1438.2 643.0L1438.8 640.9L1439.4 639.7L1440.0 639.2L1440.7 639.7L1441.3 640.9L1441.9 642.9L1442.5 645.8L1443.1 649.4L1443.8 653.7L1444.4 658.6L1445.0 664.2L1445.6 670.4L1446.2 677.0L1446.9 684.1L1447.5 691.6L1448.1 699.3L1448.7 707.2L1449.4 715.2L1450.0 723.3L1450.6 731.4L1451.2 739.3L1451.8 747.0L1452.5 754.5L1453.1 761.6L1453.7 768.3L1454.3 774.5L1455.0 780.2L1455.6 785.2L1456.2 789.6L1456.8 793.4L1457.4 796.3L1458.1 798.6L1458.7 800.0L1459.3 800.7L1459.9 800.6L1460.5 799.7L1461.2 798.0L1461.8 795.6L1462.4 792.4L1463.0 788.5L1463.7 784.0L1464.3 778.9L1464.9 773.2L1465.5 767.0L1466.1 760.4L1466.8 753.4L1467.4 746.1L1468.0 738.7L1468.6 731.0L1469.2 723.3L1469.9 715.6L1470.5 708.0L1471.1 700.6L1471.7 693.4L1472.3 686.5L1473.0 680.0L1473.6 673.9L1474.2 668.3L1474.8 663.3L1475.5 658.9L1476.1 655.1L1476.7 652.1L1477.3 649.7L1477.9 648.1L1478.6 647.2L1479.2 647.1L1479.8 647.7L1480.4 649.0L1481.0 651.1L1481.7 653.9L1482.3 657.4L1482.9 661.5L1483.5 666.2L1484.2 671.5L1484.8 677.2L1485.4 683.4L1486.0 689.9L1486.6 696.7L1487.3 703.8L1487.9 711.0L1488.5 718.3L1489.1 725.6L1489.8 732.9L1490.4 740.0L1491.0 746.9L1491.6 753.5L1492.2 759.8L1492.9 765.7L1493.5 771.2L1494.1 776.1L1494.7 780.5L1495.3 784.2L1496.0 787.4L1496.6 789.8L1497.2 791.6L1497.8 792.7L1498.5 793.0L1499.1 792.7L1499.7 791.6L1500.3 789.8L1500.9 787.4L1501.6 784.3L1502.2 780.6L1502.8 776.3L1503.4 771.5L1504.0 766.3L1504.7 760.5L1505.3 754.5L1505.9 748.1L1506.5 741.5L1507.2 734.7L1507.8 727.8L1508.4 720.9L1509.0 714.0L1509.6 707.2L1510.3 700.6L1510.9 694.3L1511.5 688.2L1512.1 682.5L1512.7 677.2L1513.4 672.4L1514.0 668.1L1514.6 664.3L1515.2 661.2L1515.8 658.6L1516.5 656.8L1517.1 655.5L1517.7 655.0L1518.3 655.1L1519.0 655.9L1519.6 657.3L1520.2 659.4L1520.8 662.1L1521.4 665.4L1522.1 669.3L1522.7 673.7L1523.3 678.5L1523.9 683.8L1524.5 689.4L1525.2 695.3L1525.8 701.5L1526.4 707.9L1527.0 714.3L1527.7 720.9L1528.3 727.4L1528.9 733.8L1529.5 740.1L1530.1 746.2L1530.8 752.0L1531.4 757.4L1532.0 762.6L1532.6 767.2L1533.2 771.5L1533.9 775.1L1534.5 778.3L1535.1 780.9L1535.7 782.8L1536.4 784.2L1537.0 784.9L1537.6 785.0L1538.2 784.5L1538.8 783.3L1539.5 781.5L1540.1 779.2L1540.7 776.2L1541.3 772.8L1542.0 768.8L1542.6 764.4L1543.2 759.6L1543.8 754.4L1544.4 748.9L1545.1 743.2L1545.7 737.3L1546.3 731.2L1546.9 725.1L1547.5 719.0L1548.2 712.9L1548.8 707.0L1549.4 701.2L1550.0 695.6L1550.7 690.4L1551.3 685.4L1551.9 680.9L1552.5 676.7L1553.1 673.1L1553.8 669.9L1554.4 667.3L1555.0 665.2L1555.6 663.7L1556.2 662.8L1556.9 662.5L1557.5 662.8L1558.1 663.7L1558.7 665.2L1559.3 667.2L1560.0 669.8L1560.6 672.8L1561.2 676.4L1561.8 680.4L1562.5 684.8L1563.1 689.6L1563.7 694.7L1564.3 700.0L1564.9 705.6L1565.6 711.3L1566.2 717.1L1566.8 722.9L1567.4 728.7L1568.0 734.4L1568.7 740.0L1569.3 745.4L1569.9 750.5L1570.5 755.3L1571.2 759.8L1571.8 763.9L1572.4 767.5L1573.0 770.7L1573.6 773.4L1574.3 775.6L1574.9 777.2L1575.5 778.3L1576.1 778.8L1576.8 778.7L1577.4 778.1L1578.0 776.9L1578.6 775.2L1579.2 772.9L1579.9 770.1L1580.5 766.9L1581.1 763.2L1581.7 759.1L1582.3 754.6L1583.0 749.8L1583.6 744.8L1584.2 739.5L1584.8 734.1L1585.5 728.6L1586.1 723.0L1586.7 717.4L1587.3 711.9L1587.9 706.5L1588.6 701.3L1589.2 696.3L1589.8 691.6L1590.4 687.2L1591.0 683.2L1591.7 679.5L1592.3 676.3L1592.9 673.6L1593.5 671.3L1594.2 669.6L1594.8 668.4L1595.4 667.8L1596.0 667.7L1596.6 668.1L1597.3 669.1L1597.9 670.6L1598.5 672.7L1599.1 675.2L1599.7 678.2L1600.4 681.6L1601.0 685.4L1601.6 689.5L1602.2 694.0L1602.8 698.7L1603.5 703.7L1604.1 708.8L1604.7 714.0L1605.3 719.3L1606.0 724.6L1606.6 729.8L1607.2 734.9L1607.8 739.9L1608.4 744.7L1609.1 749.3L1609.7 753.5L1610.3 757.5L1610.9 761.0L1611.5 764.1L1612.2 766.8L1612.8 769.1L1613.4 770.9L1614.0 772.1L1614.7 772.9L1615.3 773.1L1615.9 772.8L1616.5 772.1L1617.1 770.8L1617.8 769.0L1618.4 766.8L1619.0 764.1L1619.6 761.1L1620.2 757.6L1620.9 753.8L1621.5 749.7L1622.1 745.3L1622.7 740.8L1623.4 736.0L1624.0 731.2L1624.6 726.2L1625.2 721.3L1625.8 716.3L1626.5 711.5L1627.1 706.8L1627.7 702.2L1628.3 697.9L1629.0 693.8L1629.6 690.0L1630.2 686.6L1630.8 683.5L1631.4 680.8L1632.1 678.6L1632.7 676.7L1633.3 675.4L1633.9 674.5L1634.5 674.1L1635.2 674.2L1635.8 674.8L1636.4 675.8L1637.0 677.3L1637.7 679.2L1638.3 681.6L1638.9 684.3L1639.5 687.4L1640.1 690.9L1640.8 694.7L1641.4 698.7L1642.0 702.9L1642.6 707.3L1643.2 711.8L1643.9 716.5L1644.5 721.1L1645.1 725.8L1645.7 730.4L1646.3 734.9L1647.0 739.2L1647.6 743.4L1648.2 747.3L1648.8 751.0L1649.5 754.4L1650.1 757.4L1650.7 760.1L1651.3 762.3L1651.9 764.2L1652.6 765.6L1653.2 766.6L1653.8 767.1L1654.4 767.2L1655.0 766.8L1655.7 766.0L1656.3 764.8L1656.9 763.1L1657.5 761.0L1658.2 758.5L1658.8 755.7L1659.4 752.5L1660.0 749.1L1660.6 745.4L1661.3 741.4L1661.9 737.3L1662.5 733.1L1663.1 728.7L1663.8 724.3L1664.4 719.9L1665.0 715.5L1665.6 711.2L1666.2 707.1L1666.9 703.1L1667.5 699.3L1668.1 695.7L1668.7 692.4L1669.3 689.4L1670.0 686.8L1670.6 684.5L1671.2 682.6L1671.8 681.2L1672.5 680.1L1673.1 679.4L1673.7 679.2L1674.3 679.4L1674.9 680.1L1675.6 681.1L1676.2 682.6L1676.8 684.4L1677.4 686.7L1678.0 689.2L1678.7 692.1L1679.3 695.3L1679.9 698.7L1680.5 702.4L1681.2 706.2L1681.8 710.2L1682.4 714.3L1683.0 718.4L1683.6 722.6L1684.3 726.7L1684.9 730.8L1685.5 734.8L1686.1 738.7L1686.7 742.3L1687.4 745.8L1688.0 748.9L1688.6 751.9L1689.2 754.5L1689.8 756.7L1690.5 758.6L1691.1 760.2L1691.7 761.3L1692.3 762.1L1693.0 762.4L1693.6 762.3L1694.2 761.9L1694.8 761.0L1695.4 759.7L1696.1 758.1L1696.7 756.1L1697.3 753.8L1697.9 751.2L1698.5 748.3L1699.2 745.1L1699.8 741.7L1700.4 738.1L1701.0 734.4L1701.7 730.6L1702.3 726.7L1702.9 722.8L1703.5 718.8L1704.1 714.9L1704.8 711.1L1705.4 707.5L1706.0 704.0L1706.6 700.6L1707.2 697.5L1707.9 694.7L1708.5 692.1L1709.1 689.9L1709.7 688.0L1710.4 686.4L1711.0 685.2L1711.6 684.4L1712.2 683.9L1712.8 683.9L1713.5 684.2L1714.1 684.9L1714.7 685.9L1715.3 687.4L1716.0 689.1L1716.6 691.2L1717.2 693.6L1717.8 696.3L1718.4 699.2L1719.1 702.3L1719.7 705.6L1720.3 709.1L1720.9 712.7L1721.5 716.3L1722.2 720.0L1722.8 723.8L1723.4 727.4L1724.0 731.1L1724.7 734.6L1725.3 737.9L1725.9 741.1L1726.5 744.1L1727.1 746.9L1727.8 749.4L1728.4 751.6L1729.0 753.5L1729.6 755.1L1730.2 756.3L1730.9 757.2L1731.5 757.8L1732.1 758.0L1732.7 757.8L1733.3 757.3L1734.0 756.4L1734.6 755.1L1735.2 753.6L1735.8 751.7L1736.5 749.5L1737.1 747.1L1737.7 744.5L1738.3 741.6L1738.9 738.5L1739.6 735.3L1740.2 731.9L1740.8 728.5L1741.4 725.0L1742.0 721.5L1742.7 718.0L1743.3 714.6L1743.9 711.3L1744.5 708.0L1745.2 705.0L1745.8 702.1L1746.4 699.4L1747.0 697.0L1747.6 694.8L1748.3 692.9L1748.9 691.3L1749.5 690.0L1750.1 689.1L1750.8 688.4L1751.4 688.2L1752.0 688.2L1752.6 688.6L1753.2 689.3L1753.9 690.4L1754.5 691.8L1755.1 693.4L1755.7 695.4L1756.3 697.6L1757.0 700.0L1757.6 702.7L1758.2 705.5L1758.8 708.5L1759.5 711.6L1760.1 714.8L1760.7 718.1L1761.3 721.4L1761.9 724.6L1762.6 727.9L1763.2 731.1L1763.8 734.1L1764.4 737.1L1765.0 739.8L1765.7 742.4L1766.3 744.8L1766.9 746.9L1767.5 748.8L1768.2 750.4L1768.8 751.7L1769.4 752.7L1770.0 753.3L1770.6 753.7L1771.3 753.8L1771.9 753.5L1772.5 752.9L1773.1 752.0L1773.7 750.8L1774.4 749.4L1775.0 747.6L1775.6 745.6L1776.2 743.4L1776.8 741.0L1777.5 738.4L1778.1 735.6L1778.7 732.8L1779.3 729.8L1780.0 726.7L1780.6 723.6L1781.2 720.6L1781.8 717.5L1782.4 714.5L1783.1 711.6L1783.7 708.8L1784.3 706.1L1784.9 703.6L1785.6 701.3L1786.2 699.3L1786.8 697.4L1787.4 695.8L1788.0 694.5L1788.7 693.5L1789.3 692.7L1789.9 692.3L1790.5 692.1L1791.1 692.2L1791.8 692.7L1792.4 693.4L1793.0 694.4L1793.6 695.7L1794.2 697.3L1794.9 699.1L1795.5 701.1L1796.1 703.3L1796.7 705.7L1797.4 708.2L1798.0 710.9L1798.6 713.7L1799.2 716.6L1799.8 719.5L1800.5 722.4L1801.1 725.3L1801.7 728.2L1802.3 730.9L1802.9 733.6L1803.6 736.2L1804.2 738.6L1804.8 740.9L1805.4 742.9L1806.1 744.7L1806.7 746.3L1807.3 747.7L1807.9 748.8L1808.5 749.6L1809.2 750.1L1809.8 750.4L1810.4 750.3L1811.0 750.0L1811.7 749.4L1812.3 748.5L1812.9 747.4L1813.5 746.0L1814.1 744.4L1814.8 742.6L1815.4 740.5L1816.0 738.3L1816.6 735.9L1817.2 733.4L1817.9 730.8L1818.5 728.1L1819.1 725.3L1819.7 722.6L1820.3 719.8L1821.0 717.1L1821.6 714.4L1822.2 711.8L1822.8 709.3L1823.5 706.9L1824.1 704.8L1824.7 702.8L1825.3 701.0L1825.9 699.4L1826.6 698.0L1827.2 696.9L1827.8 696.0L1828.4 695.5L1829.1 695.1L1829.7 695.1L1830.3 695.3L1830.9 695.8L1831.5 696.6L1832.2 697.6L1832.8 698.8L1833.4 700.3L1834.0 702.0L1834.6 703.8L1835.3 705.9L1835.9 708.1L1836.5 710.4L1837.1 712.9L1837.8 715.4L1838.4 718.0L1839.0 720.6L1839.6 723.2L1840.2 725.8L1840.9 728.3L1841.5 730.8L1842.1 733.2L1842.7 735.4L1843.3 737.5L1844.0 739.4L1844.6 741.2L1845.2 742.7L1845.8 744.0L1846.4 745.1L1847.1 746.0L1847.7 746.6L1848.3 747.0L1848.9 747.1L1849.6 747.0L1850.2 746.6L1850.8 745.9L1851.4 745.1L1852.0 744.0L1852.7 742.7L1853.3 741.2L1853.9 739.5L1854.5 737.6L1855.2 735.6L1855.8 733.5L1856.4 731.2L1857.0 728.9L1857.6 726.5L1858.3 724.1L1858.9 721.7L1859.5 719.3L1860.1 716.9L1860.7 714.6L1861.4 712.4L1862.0 710.2L1862.6 708.2L1863.2 706.4L1863.8 704.7L1864.5 703.2L1865.1 701.9L1865.7 700.8L1866.3 699.9L1867.0 699.2L1867.6 698.8L1868.2 698.6L1868.8 698.6L1869.4 698.9L1870.1 699.4L1870.7 700.1L1871.3 701.0L1871.9 702.2L1872.6 703.5L1873.2 705.0L1873.8 706.7L1874.4 708.5L1875.0 710.5L1875.7 712.6L1876.3 714.7L1876.9 717.0L1877.5 719.2L1878.1 721.5L1878.8 723.8L1879.4 726.1L1880.0 728.3L1880.6 730.5L1881.2 732.5L1881.9 734.5L1882.5 736.3L1883.1 737.9L1883.7 739.5L1884.4 740.8L1885.0 741.9L1885.6 742.8L1886.2 743.6L1886.8 744.1L1887.5 744.3L1888.1 744.4L1888.7 744.2L1889.3 743.8L1889.9 743.2L1890.6 742.4L1891.2 741.4L1891.8 740.2L1892.4 738.8L1893.1 737.2L1893.7 735.5L1894.3 733.7L1894.9 731.7L1895.5 729.7L1896.2 727.6L1896.8 725.4L1897.4 723.2L1898.0 721.0L1898.7 718.8L1899.3 716.7L1899.9 714.6L1900.5 712.6L1901.1 710.7L1901.8 708.9L1902.4 707.2L1903.0 705.7L1903.6 704.4L1904.2 703.2L1904.9 702.3L1905.5 701.5L1906.1 701.0L1906.7 700.6L1907.3 700.5L1908.0 700.6L1908.6 700.9L1909.2 701.5L1909.8 702.2L1910.5 703.1L1911.1 704.2L1911.7 705.5L1912.3 706.9L1912.9 708.5L1913.6 710.3L1914.2 712.1L1914.8 714.0L1915.4 716.0L1916.1 718.1L1916.7 720.2L1917.3 722.3L1917.9 724.3L1918.5 726.4L1919.2 728.4L1919.8 730.4L1920.4 732.2L1921.0 733.9L1921.6 735.6L1922.3 737.0L1922.9 738.4L1923.5 739.5L1924.1 740.5L1924.8 741.3L1925.4 741.8L1926.0 742.2L1926.6 742.4L1927.2 742.4L1927.9 742.2L1928.5 741.7L1929.1 741.1" stroke="#0f72bd" stroke-width="4.4"/>
<path d="M189.1 248.1L189.7 204.8L190.3 166.8L191.0 134.5L191.6 108.0L192.2 87.8L192.8 74.1L193.4 66.8L194.1 66.2L194.7 72.1L195.3 84.6L195.9 103.5L196.6 128.6L197.2 159.7L197.8 196.3L198.4 238.3L199.0 285.0L199.7 336.1L200.3 391.1L200.9 449.3L201.5 510.2L202.2 573.2L202.8 637.7L203.4 702.9L204.0 768.3L204.6 833.2L205.3 896.9L205.9 958.8L206.5 1018.3L207.1 1074.8L207.7 1127.7L208.4 1176.5L209.0 1220.7L209.6 1259.9L210.2 1293.6L210.8 1321.6L211.5 1343.6L212.1 1359.3L212.7 1368.6L213.3 1371.4L214.0 1367.7L214.6 1357.6L215.2 1341.1L215.8 1318.4L216.4 1289.8L217.1 1255.5L217.7 1215.9L218.3 1171.4L218.9 1122.5L219.6 1069.6L220.2 1013.3L220.8 954.1L221.4 892.7L222.0 829.6L222.7 765.5L223.3 701.1L223.9 636.9L224.5 573.6L225.1 511.9L225.8 452.3L226.4 395.5L227.0 342.0L227.6 292.4L228.2 247.1L228.9 206.6L229.5 171.2L230.1 141.4L230.7 117.4L231.4 99.4L232.0 87.7L232.6 82.3L233.2 83.3L233.8 90.6L234.5 104.3L235.1 124.2L235.7 149.9L236.3 181.4L236.9 218.2L237.6 260.0L238.2 306.3L238.8 356.7L239.4 410.6L240.1 467.6L240.7 527.0L241.3 588.2L241.9 650.7L242.5 713.7L243.2 776.8L243.8 839.2L244.4 900.3L245.0 959.5L245.6 1016.3L246.3 1070.1L246.9 1120.3L247.5 1166.4L248.1 1208.1L248.8 1244.8L249.4 1276.3L250.0 1302.3L250.6 1322.4L251.2 1336.6L251.9 1344.6L252.5 1346.4L253.1 1342.0L253.7 1331.3L254.3 1314.5L255.0 1291.7L255.6 1263.3L256.2 1229.4L256.8 1190.4L257.5 1146.6L258.1 1098.6L258.7 1046.8L259.3 991.8L259.9 933.9L260.6 874.0L261.2 812.5L261.8 750.0L262.4 687.3L263.1 624.9L263.7 563.4L264.3 503.5L264.9 445.8L265.5 390.8L266.2 339.2L266.8 291.4L267.4 247.9L268.0 209.2L268.6 175.6L269.3 147.5L269.9 125.2L270.5 109.0L271.1 98.8L271.8 95.0L272.4 97.5L273.0 106.3L273.6 121.3L274.2 142.3L274.9 169.2L275.5 201.7L276.1 239.4L276.7 281.9L277.3 328.9L278.0 379.8L278.6 434.2L279.2 491.4L279.8 551.0L280.4 612.2L281.1 674.5L281.7 737.3L282.3 799.9L282.9 861.6L283.6 922.0L284.2 980.2L284.8 1035.8L285.4 1088.3L286.0 1136.9L286.7 1181.4L287.3 1221.2L287.9 1256.0L288.5 1285.3L289.1 1309.0L289.8 1326.7L290.4 1338.4L291.0 1343.8L291.6 1343.0L292.3 1335.9L292.9 1322.7L293.5 1303.4L294.1 1278.4L294.7 1247.9L295.4 1212.1L296.0 1171.4L296.6 1126.4L297.2 1077.3L297.9 1024.8L298.5 969.4L299.1 911.6L299.7 852.0L300.3 791.2L301.0 729.8L301.6 668.5L302.2 607.8L302.8 548.3L303.4 490.7L304.1 435.5L304.7 383.3L305.3 334.6L305.9 289.8L306.6 249.4L307.2 213.8L307.8 183.3L308.4 158.3L309.0 138.9L309.7 125.4L310.3 117.9L310.9 116.5L311.5 121.1L312.1 131.7L312.8 148.3L313.4 170.5L314.0 198.3L314.6 231.2L315.2 269.1L315.9 311.4L316.5 357.7L317.1 407.6L317.7 460.6L318.4 516.1L319.0 573.5L319.6 632.4L320.2 692.0L320.8 751.8L321.5 811.3L322.1 869.7L322.7 926.6L323.3 981.3L324.0 1033.4L324.6 1082.3L325.2 1127.5L325.8 1168.6L326.4 1205.1L327.1 1236.8L327.7 1263.4L328.3 1284.4L328.9 1299.9L329.5 1309.6L330.2 1313.3L330.8 1311.2L331.4 1303.2L332.0 1289.4L332.6 1269.8L333.3 1244.8L333.9 1214.6L334.5 1179.5L335.1 1139.7L335.8 1095.8L336.4 1048.1L337.0 997.2L337.6 943.6L338.2 887.7L338.9 830.1L339.5 771.5L340.1 712.4L340.7 653.5L341.4 595.2L342.0 538.2L342.6 483.1L343.2 430.4L343.8 380.7L344.5 334.5L345.1 292.1L345.7 254.2L346.3 220.9L346.9 192.8L347.6 170.0L348.2 152.8L348.8 141.3L349.4 135.8L350.1 136.1L350.7 142.5L351.3 154.8L351.9 172.9L352.5 196.6L353.2 225.6L353.8 259.5L354.4 298.0L355.0 340.8L355.6 387.2L356.3 436.9L356.9 489.2L357.5 543.7L358.1 599.8L358.8 656.9L359.4 714.4L360.0 771.7L360.6 828.4L361.2 883.7L361.9 937.3L362.5 988.4L363.1 1036.8L363.7 1081.9L364.3 1123.2L365.0 1160.5L365.6 1193.3L366.2 1221.4L366.8 1244.6L367.5 1262.5L368.1 1275.1L368.7 1282.2L369.3 1283.8L369.9 1279.9L370.6 1270.3L371.2 1255.2L371.8 1234.8L372.4 1209.3L373.0 1178.8L373.7 1143.7L374.3 1104.4L374.9 1061.3L375.5 1014.7L376.1 965.2L376.8 913.3L377.4 859.3L378.0 804.0L378.6 747.9L379.3 691.5L379.9 635.4L380.5 580.1L381.1 526.3L381.7 474.4L382.4 425.0L383.0 378.5L383.6 335.6L384.2 296.5L384.9 261.7L385.5 231.5L386.1 206.3L386.7 186.2L387.3 171.6L388.0 162.5L388.6 159.1L389.2 161.4L389.8 169.4L390.4 183.1L391.1 202.3L391.7 226.8L392.3 256.2L392.9 290.4L393.5 328.9L394.2 371.3L394.8 417.1L395.4 465.8L396.0 517.0L396.7 570.1L397.3 624.6L397.9 679.8L398.5 735.3L399.1 790.4L399.8 844.7L400.4 897.6L401.0 948.5L401.6 997.0L402.2 1042.6L402.9 1084.9L403.5 1123.5L404.1 1158.0L404.7 1188.1L405.4 1213.5L406.0 1234.0L406.6 1249.4L407.2 1259.6L407.8 1264.5L408.5 1264.1L409.1 1258.2L409.7 1246.9L410.3 1230.4L411.0 1208.7L411.6 1182.2L412.2 1151.0L412.8 1115.6L413.4 1076.2L414.1 1033.2L414.7 987.1L415.3 938.4L415.9 887.5L416.5 835.0L417.2 781.3L417.8 727.1L418.4 672.8L419.0 619.1L419.6 566.4L420.3 515.3L420.9 466.2L421.5 419.8L422.1 376.3L422.8 336.4L423.4 300.4L424.0 268.6L424.6 241.3L425.2 218.9L425.9 201.6L426.5 189.4L427.1 182.7L427.7 181.3L428.4 185.4L429.0 195.0L429.6 209.9L430.2 230.0L430.8 255.0L431.5 284.8L432.1 318.9L432.7 357.1L433.3 398.9L433.9 443.9L434.6 491.6L435.2 541.6L435.8 593.3L436.4 646.3L437.1 699.8L437.7 753.5L438.3 806.8L438.9 859.1L439.5 909.9L440.2 958.8L440.8 1005.1L441.4 1048.5L442.0 1088.6L442.6 1124.9L443.3 1157.1L443.9 1184.9L444.5 1208.0L445.1 1226.2L445.8 1239.4L446.4 1247.3L447.0 1250.0L447.6 1247.4L448.2 1239.6L448.9 1226.6L449.5 1208.5L450.1 1185.6L450.7 1158.1L451.3 1126.2L452.0 1090.4L452.6 1050.9L453.2 1008.1L453.8 962.5L454.5 914.6L455.1 864.8L455.7 813.6L456.3 761.6L456.9 709.2L457.6 657.0L458.2 605.6L458.8 555.4L459.4 506.9L460.0 460.7L460.7 417.1L461.3 376.7L461.9 339.8L462.5 306.8L463.1 278.0L463.8 253.7L464.4 234.2L465.0 219.6L465.6 210.0L466.3 205.7L466.9 206.5L467.5 212.6L468.1 223.8L468.7 240.0L469.4 261.0L470.0 286.7L470.6 316.6L471.2 350.6L471.9 388.3L472.5 429.2L473.1 473.0L473.7 519.2L474.3 567.3L475.0 616.8L475.6 667.3L476.2 718.3L476.8 769.1L477.4 819.4L478.1 868.5L478.7 916.1L479.3 961.7L479.9 1004.7L480.6 1044.8L481.2 1081.6L481.8 1114.8L482.4 1143.9L483.0 1168.8L483.7 1189.2L484.3 1204.8L484.9 1215.7L485.5 1221.6L486.1 1222.5L486.8 1218.4L487.4 1209.3L488.0 1195.4L488.6 1176.8L489.2 1153.6L489.9 1126.1L490.5 1094.6L491.1 1059.4L491.7 1020.8L492.4 979.3L493.0 935.3L493.6 889.1L494.2 841.3L494.8 792.4L495.5 742.8L496.1 693.0L496.7 643.5L497.3 594.9L498.0 547.6L498.6 502.1L499.2 458.9L499.8 418.3L500.4 380.8L501.1 346.8L501.7 316.6L502.3 290.6L502.9 268.8L503.5 251.7L504.2 239.4L504.8 231.9L505.4 229.3L506.0 231.8L506.6 239.2L507.3 251.5L507.9 268.5L508.5 290.1L509.1 316.1L509.8 346.0L510.4 379.7L511.0 416.8L511.6 456.8L512.2 499.4L512.9 544.1L513.5 590.5L514.1 638.1L514.7 686.4L515.4 734.9L516.0 783.1L516.6 830.7L517.2 877.0L517.8 921.6L518.5 964.1L519.1 1004.2L519.7 1041.3L520.3 1075.1L520.9 1105.4L521.6 1131.8L522.2 1154.1L522.8 1172.1L523.4 1185.6L524.1 1194.5L524.7 1198.7L525.3 1198.2L525.9 1192.9L526.5 1182.9L527.2 1168.3L527.8 1149.1L528.4 1125.7L529.0 1098.3L529.6 1067.1L530.3 1032.4L530.9 994.6L531.5 954.1L532.1 911.3L532.8 866.6L533.4 820.4L534.0 773.2L534.6 725.6L535.2 677.9L535.9 630.7L536.5 584.4L537.1 539.5L537.7 496.4L538.3 455.6L539.0 417.6L539.6 382.5L540.2 350.9L540.8 323.1L541.5 299.3L542.1 279.7L542.7 264.6L543.3 254.1L543.9 248.3L544.6 247.2L545.2 251.0L545.8 259.6L546.4 272.9L547.0 290.7L547.7 312.9L548.3 339.2L548.9 369.4L549.5 403.0L550.1 439.8L550.8 479.4L551.4 521.4L552.0 565.2L552.6 610.6L553.3 656.9L553.9 703.8L554.5 750.8L555.1 797.3L555.7 842.9L556.4 887.2L557.0 929.7L557.6 970.1L558.2 1007.8L558.9 1042.6L559.5 1074.0L560.1 1101.9L560.7 1125.9L561.3 1145.8L562.0 1161.4L562.6 1172.7L563.2 1179.4L563.8 1181.5L564.4 1179.1L565.1 1172.1L565.7 1160.6L566.3 1144.7L566.9 1124.6L567.6 1100.5L568.2 1072.6L568.8 1041.3L569.4 1006.8L570.0 969.5L570.7 929.7L571.3 888.0L571.9 844.6L572.5 800.1L573.1 754.8L573.8 709.3L574.4 663.9L575.0 619.2L575.6 575.6L576.2 533.5L576.9 493.4L577.5 455.6L578.1 420.6L578.7 388.7L579.4 360.2L580.0 335.3L580.6 314.4L581.2 297.6L581.8 285.2L582.5 277.1L583.1 273.6L583.7 274.6L584.3 280.1L585.0 290.1L585.6 304.4L586.2 322.9L586.8 345.4L587.4 371.7L588.1 401.4L588.7 434.3L589.3 470.0L589.9 508.1L590.5 548.3L591.2 590.2L591.8 633.2L592.4 677.1L593.0 721.3L593.7 765.3L594.3 808.8L594.9 851.4L595.5 892.5L596.1 931.8L596.8 968.9L597.4 1003.5L598.0 1035.1L598.6 1063.6L599.2 1088.5L599.9 1109.8L600.5 1127.1L601.1 1140.4L601.7 1149.4L602.4 1154.2L603.0 1154.6L603.6 1150.8L604.2 1142.6L604.8 1130.3L605.5 1113.9L606.1 1093.6L606.7 1069.6L607.3 1042.1L607.9 1011.5L608.6 978.0L609.2 942.0L609.8 903.8L610.4 863.9L611.1 822.5L611.7 780.2L612.3 737.3L612.9 694.4L613.5 651.7L614.2 609.8L614.8 569.1L615.4 529.9L616.0 492.7L616.6 457.9L617.3 425.7L617.9 396.6L618.5 370.8L619.1 348.5L619.8 330.1L620.4 315.6L621.0 305.2L621.6 299.0L622.2 297.2L622.9 299.6L623.5 306.3L624.1 317.3L624.7 332.3L625.3 351.2L626.0 373.9L626.6 400.0L627.2 429.3L627.8 461.5L628.5 496.2L629.1 533.0L629.7 571.6L630.3 611.6L630.9 652.5L631.6 694.0L632.2 735.6L632.8 777.0L633.4 817.6L634.0 857.2L634.7 895.3L635.3 931.5L635.9 965.5L636.5 997.1L637.2 1025.8L637.8 1051.4L638.4 1073.7L639.0 1092.5L639.6 1107.6L640.3 1118.9L640.9 1126.2L641.5 1129.6L642.1 1129.0L642.7 1124.2L643.4 1115.5L644.0 1102.8L644.6 1086.3L645.2 1066.1L645.9 1042.5L646.5 1015.7L647.1 985.9L647.7 953.4L648.3 918.7L649.0 881.9L649.6 843.6L650.2 804.0L650.8 763.6L651.4 722.8L652.1 681.9L652.7 641.5L653.3 601.9L653.9 563.4L654.6 526.6L655.2 491.7L655.8 459.1L656.4 429.2L657.0 402.2L657.7 378.4L658.3 358.1L658.9 341.4L659.5 328.6L660.1 319.7L660.8 314.9L661.4 314.2L662.0 317.6L662.6 325.1L663.2 336.7L663.9 352.2L664.5 371.4L665.1 394.1L665.7 420.2L666.4 449.2L667.0 481.0L667.6 515.2L668.2 551.3L668.8 589.1L669.5 628.2L670.1 668.0L670.7 708.4L671.3 748.8L672.0 788.7L672.6 828.0L673.2 866.0L673.8 902.5L674.4 937.1L675.1 969.4L675.7 999.2L676.3 1026.1L676.9 1049.9L677.5 1070.4L678.2 1087.4L678.8 1100.6L679.4 1110.1L680.0 1115.7L680.7 1117.3L681.3 1115.0L681.9 1108.8L682.5 1098.7L683.1 1084.8L683.8 1067.4L684.4 1046.5L685.0 1022.4L685.6 995.3L686.2 965.5L686.9 933.3L687.5 899.0L688.1 863.0L688.7 825.6L689.4 787.2L690.0 748.2L690.6 709.1L691.2 670.1L691.8 631.7L692.5 594.2L693.1 558.1L693.7 523.7L694.3 491.3L694.9 461.3L695.6 434.0L696.2 409.7L696.8 388.5L697.4 370.7L698.1 356.5L698.7 346.0L699.3 339.4L699.9 336.6L700.5 337.7L701.2 342.7L701.8 351.5L702.4 364.1L703.0 380.3L703.6 399.9L704.3 422.7L704.9 448.4L705.5 476.9L706.1 507.7L706.8 540.6L707.4 575.2L708.0 611.2L708.6 648.1L709.2 685.7L709.9 723.5L710.5 761.2L711.1 798.4L711.7 834.6L712.3 869.6L713.0 903.0L713.6 934.5L714.2 963.8L714.8 990.6L715.5 1014.6L716.1 1035.6L716.7 1053.4L717.3 1067.9L717.9 1078.9L718.6 1086.3L719.2 1090.1L719.8 1090.2L720.4 1086.7L721.0 1079.5L721.7 1068.7L722.3 1054.5L722.9 1037.0L723.5 1016.4L724.2 992.8L724.8 966.5L725.4 937.8L726.0 907.0L726.6 874.4L727.3 840.3L727.9 805.0L728.5 768.9L729.1 732.4L729.7 695.9L730.4 659.6L731.0 624.0L731.6 589.4L732.2 556.2L732.9 524.7L733.5 495.2L734.1 468.1L734.7 443.5L735.3 421.8L736.0 403.1L736.6 387.7L737.2 375.7L737.8 367.2L738.4 362.2L739.1 361.0L739.7 363.3L740.3 369.4L740.9 378.9L741.6 392.0L742.2 408.3L742.8 427.8L743.4 450.2L744.0 475.3L744.7 502.9L745.3 532.5L745.9 564.0L746.5 597.0L747.1 631.1L747.8 666.1L748.4 701.5L749.0 737.0L749.6 772.3L750.3 806.9L750.9 840.6L751.5 873.0L752.1 903.7L752.7 932.6L753.4 959.2L754.0 983.4L754.6 1004.9L755.2 1023.5L755.8 1039.1L756.5 1051.5L757.1 1060.5L757.7 1066.1L758.3 1068.3L759.0 1067.1L759.6 1062.4L760.2 1054.3L760.8 1042.8L761.4 1028.2L762.1 1010.6L762.7 990.1L763.3 966.9L763.9 941.4L764.5 913.7L765.2 884.1L765.8 852.9L766.4 820.5L767.0 787.2L767.7 753.3L768.3 719.1L768.9 685.0L769.5 651.3L770.1 618.4L770.8 586.6L771.4 556.2L772.0 527.6L772.6 500.9L773.2 476.5L773.9 454.6L774.5 435.4L775.1 419.1L775.7 405.9L776.4 395.9L777.0 389.1L777.6 385.8L778.2 385.8L778.8 389.2L779.5 395.9L780.1 405.9L780.7 419.0L781.3 435.2L781.9 454.3L782.6 476.0L783.2 500.1L783.8 526.5L784.4 554.7L785.1 584.7L785.7 616.0L786.3 648.3L786.9 681.3L787.5 714.7L788.2 748.1L788.8 781.3L789.4 813.8L790.0 845.3L790.6 875.6L791.3 904.3L791.9 931.2L792.5 955.9L793.1 978.2L793.8 998.0L794.4 1014.9L795.0 1028.9L795.6 1039.7L796.2 1047.4L796.9 1051.8L797.5 1052.8L798.1 1050.6L798.7 1045.0L799.3 1036.2L800.0 1024.2L800.6 1009.3L801.2 991.4L801.8 970.9L802.5 948.0L803.1 922.8L803.7 895.6L804.3 866.8L804.9 836.6L805.6 805.3L806.2 773.2L806.8 740.7L807.4 708.0L808.0 675.6L808.7 643.8L809.3 612.8L809.9 582.9L810.5 554.6L811.2 528.0L811.8 503.4L812.4 481.0L813.0 461.2L813.6 444.0L814.3 429.6L814.9 418.2L815.5 409.9L816.1 404.8L816.7 402.8L817.4 404.0L818.0 408.5L818.6 416.1L819.2 426.7L819.9 440.3L820.5 456.7L821.1 475.7L821.7 497.2L822.3 520.9L823.0 546.5L823.6 573.8L824.2 602.5L824.8 632.3L825.4 663.0L826.1 694.2L826.7 725.5L827.3 756.8L827.9 787.6L828.6 817.7L829.2 846.7L829.8 874.4L830.4 900.6L831.0 924.8L831.7 947.0L832.3 966.9L832.9 984.4L833.5 999.1L834.1 1011.1L834.8 1020.2L835.4 1026.3L836.0 1029.3L836.6 1029.3L837.3 1026.3L837.9 1020.1L838.5 1011.1L839.1 999.1L839.7 984.4L840.4 967.1L841.0 947.3L841.6 925.3L842.2 901.3L842.8 875.6L843.5 848.3L844.1 819.7L844.7 790.3L845.3 760.1L846.0 729.6L846.6 699.1L847.2 668.8L847.8 639.0L848.4 610.2L849.1 582.4L849.7 556.1L850.3 531.5L850.9 508.8L851.5 488.3L852.2 470.2L852.8 454.6L853.4 441.8L854.0 431.7L854.7 424.6L855.3 420.5L855.9 419.5L856.5 421.5L857.1 426.6L857.8 434.6L858.4 445.5L859.0 459.2L859.6 475.6L860.2 494.4L860.9 515.4L861.5 538.5L862.1 563.4L862.7 589.8L863.4 617.4L864.0 646.1L864.6 675.4L865.2 705.2L865.8 735.0L866.5 764.6L867.1 793.7L867.7 821.9L868.3 849.1L868.9 875.0L869.6 899.3L870.2 921.7L870.8 942.0L871.4 960.1L872.1 975.8L872.7 988.9L873.3 999.4L873.9 1007.0L874.5 1011.8L875.2 1013.7L875.8 1012.6L876.4 1008.7L877.0 1001.9L877.6 992.4L878.3 980.1L878.9 965.3L879.5 948.1L880.1 928.7L880.8 907.2L881.4 883.9L882.0 859.0L882.6 832.7L883.2 805.4L883.9 777.3L884.5 748.7L885.1 719.9L885.7 691.1L886.3 662.7L887.0 634.9L887.6 608.0L888.2 582.3L888.8 558.0L889.5 535.5L890.1 514.8L890.7 496.3L891.3 480.0L891.9 466.3L892.6 455.1L893.2 446.6L893.8 440.9L894.4 438.1L895.0 438.1L895.7 441.0L896.3 446.8L896.9 455.3L897.5 466.5L898.2 480.3L898.8 496.4L899.4 514.8L900.0 535.2L900.6 557.5L901.3 581.3L901.9 606.4L902.5 632.7L903.1 659.7L903.7 687.3L904.4 715.2L905.0 743.0L905.6 770.5L906.2 797.4L906.9 823.5L907.5 848.5L908.1 872.1L908.7 894.2L909.3 914.4L910.0 932.7L910.6 948.9L911.2 962.7L911.8 974.1L912.4 982.9L913.1 989.2L913.7 992.7L914.3 993.6L914.9 991.8L915.6 987.3L916.2 980.1L916.8 970.4L917.4 958.2L918.0 943.7L918.7 926.9L919.3 908.2L919.9 887.6L920.5 865.4L921.1 841.7L921.8 817.0L922.4 791.2L923.0 764.9L923.6 738.1L924.3 711.2L924.9 684.4L925.5 658.1L926.1 632.4L926.7 607.7L927.4 584.1L928.0 562.0L928.6 541.5L929.2 522.9L929.8 506.2L930.5 491.8L931.1 479.8L931.7 470.2L932.3 463.2L933.0 458.8L933.6 457.0L934.2 458.0L934.8 461.6L935.4 468.0L936.1 476.9L936.7 488.3L937.3 502.0L937.9 517.9L938.5 535.8L939.2 555.5L939.8 576.9L940.4 599.5L941.0 623.4L941.7 648.0L942.3 673.3L942.9 699.0L943.5 724.8L944.1 750.3L944.8 775.5L945.4 800.0L946.0 823.6L946.6 846.1L947.2 867.3L947.9 886.9L948.5 904.8L949.1 920.8L949.7 934.8L950.4 946.6L951.0 956.2L951.6 963.5L952.2 968.4L952.8 970.8L953.5 970.9L954.1 968.4L954.7 963.5L955.3 956.2L955.9 946.6L956.6 934.7L957.2 920.7L957.8 904.7L958.4 886.9L959.1 867.5L959.7 846.6L960.3 824.5L960.9 801.4L961.5 777.4L962.2 753.0L962.8 728.2L963.4 703.4L964.0 678.8L964.6 654.6L965.3 631.1L965.9 608.6L966.5 587.2L967.1 567.1L967.8 548.6L968.4 531.9L969.0 517.1L969.6 504.4L970.2 493.9L970.9 485.7L971.5 479.9L972.1 476.5L972.7 475.6L973.3 477.2L974.0 481.3L974.6 487.8L975.2 496.8L975.8 508.0L976.5 521.3L977.1 536.7L977.7 553.9L978.3 572.8L978.9 593.1L979.6 614.6L980.2 637.2L980.8 660.5L981.4 684.4L982.0 708.5L982.7 732.7L983.3 756.7L983.9 780.2L984.5 803.1L985.1 825.1L985.8 846.0L986.4 865.5L987.0 883.5L987.6 899.9L988.3 914.5L988.9 927.1L989.5 937.6L990.1 946.0L990.7 952.1L991.4 955.9L992.0 957.5L992.6 956.7L993.2 953.5L993.9 948.1L994.5 940.4L995.1 930.5L995.7 918.6L996.3 904.7L997.0 889.0L997.6 871.6L998.2 852.8L998.8 832.7L999.4 811.5L1000.1 789.4L1000.7 766.6L1001.3 743.4L1001.9 720.1L1002.6 696.8L1003.2 673.7L1003.8 651.2L1004.4 629.4L1005.0 608.5L1005.7 588.8L1006.3 570.5L1006.9 553.7L1007.5 538.6L1008.1 525.4L1008.8 514.2L1009.4 505.0L1010.0 498.1L1010.6 493.5L1011.3 491.2L1011.9 491.2L1012.5 493.5L1013.1 498.2L1013.7 505.2L1014.4 514.3L1015.0 525.6L1015.6 538.8L1016.2 553.8L1016.8 570.5L1017.5 588.6L1018.1 608.1L1018.7 628.6L1019.3 649.9L1020.0 671.9L1020.6 694.4L1021.2 717.0L1021.8 739.5L1022.4 761.8L1023.1 783.6L1023.7 804.7L1024.3 824.9L1024.9 843.9L1025.5 861.7L1026.2 878.0L1026.8 892.7L1027.4 905.6L1028.0 916.6L1028.6 925.7L1029.3 932.8L1029.9 937.7L1030.5 940.5L1031.1 941.1L1031.8 939.6L1032.4 935.9L1033.0 930.1L1033.6 922.2L1034.2 912.3L1034.9 900.5L1035.5 887.0L1036.1 871.8L1036.7 855.2L1037.3 837.3L1038.0 818.2L1038.6 798.3L1039.2 777.5L1039.8 756.3L1040.5 734.7L1041.1 713.1L1041.7 691.5L1042.3 670.3L1042.9 649.7L1043.6 629.8L1044.2 610.8L1044.8 593.0L1045.4 576.5L1046.0 561.6L1046.7 548.2L1047.3 536.7L1047.9 527.0L1048.5 519.3L1049.2 513.6L1049.8 510.1L1050.4 508.7L1051.0 509.5L1051.6 512.4L1052.3 517.5L1052.9 524.6L1053.5 533.7L1054.1 544.7L1054.8 557.4L1055.4 571.8L1056.0 587.6L1056.6 604.8L1057.2 623.0L1057.9 642.2L1058.5 662.1L1059.1 682.6L1059.7 703.4L1060.3 724.3L1061.0 745.0L1061.6 765.5L1062.2 785.5L1062.8 804.7L1063.5 823.1L1064.1 840.4L1064.7 856.4L1065.3 871.1L1065.9 884.2L1066.6 895.7L1067.2 905.4L1067.8 913.3L1068.4 919.2L1069.0 923.2L1069.7 925.2L1070.3 925.1L1070.9 923.1L1071.5 919.0L1072.1 913.0L1072.8 905.1L1073.4 895.4L1074.0 883.9L1074.6 870.9L1075.3 856.4L1075.9 840.5L1076.5 823.5L1077.1 805.5L1077.7 786.7L1078.4 767.3L1079.0 747.4L1079.6 727.3L1080.2 707.2L1080.8 687.2L1081.5 667.6L1082.1 648.6L1082.7 630.3L1083.3 613.0L1084.0 596.8L1084.6 581.9L1085.2 568.4L1085.8 556.5L1086.4 546.2L1087.1 537.8L1087.7 531.2L1088.3 526.6L1088.9 523.9L1089.5 523.3L1090.2 524.6L1090.8 528.0L1091.4 533.4L1092.0 540.7L1092.7 549.8L1093.3 560.6L1093.9 573.0L1094.5 586.9L1095.1 602.1L1095.8 618.4L1096.4 635.8L1097.0 653.9L1097.6 672.6L1098.2 691.7L1098.9 711.0L1099.5 730.3L1100.1 749.5L1100.7 768.2L1101.4 786.4L1102.0 803.9L1102.6 820.5L1103.2 836.0L1103.8 850.4L1104.5 863.3L1105.1 874.9L1105.7 884.8L1106.3 893.1L1107.0 899.8L1107.6 904.6L1108.2 907.6L1108.8 908.8L1109.4 908.2L1110.1 905.7L1110.7 901.4L1111.3 895.3L1111.9 887.5L1112.5 878.0L1113.2 867.0L1113.8 854.6L1114.4 840.9L1115.0 826.0L1115.6 810.0L1116.3 793.3L1116.9 775.8L1117.5 757.8L1118.1 739.5L1118.8 721.0L1119.4 702.5L1120.0 684.3L1120.6 666.5L1121.2 649.2L1121.9 632.7L1122.5 617.1L1123.1 602.6L1123.7 589.3L1124.3 577.4L1125.0 566.9L1125.6 558.0L1126.2 550.8L1126.8 545.3L1127.5 541.6L1128.1 539.8L1128.7 539.7L1129.3 541.6L1129.9 545.2L1130.6 550.7L1131.2 557.9L1131.8 566.7L1132.4 577.1L1133.0 588.9L1133.7 602.0L1134.3 616.3L1134.9 631.6L1135.5 647.7L1136.2 664.6L1136.8 681.9L1137.4 699.6L1138.0 717.5L1138.6 735.3L1139.3 752.9L1139.9 770.1L1140.5 786.8L1141.1 802.7L1141.8 817.8L1142.4 831.9L1143.0 844.8L1143.6 856.5L1144.2 866.7L1144.9 875.5L1145.5 882.7L1146.1 888.4L1146.7 892.3L1147.3 894.6L1148.0 895.1L1148.6 893.9L1149.2 891.0L1149.8 886.4L1150.5 880.2L1151.1 872.5L1151.7 863.2L1152.3 852.6L1152.9 840.6L1153.6 827.5L1154.2 813.4L1154.8 798.4L1155.4 782.7L1156.0 766.3L1156.7 749.6L1157.3 732.6L1157.9 715.6L1158.5 698.6L1159.2 681.9L1159.8 665.6L1160.4 650.0L1161.0 635.1L1161.6 621.0L1162.3 608.1L1162.9 596.3L1163.5 585.8L1164.1 576.7L1164.7 569.0L1165.4 563.0L1166.0 558.5L1166.6 555.8L1167.2 554.7L1167.8 555.3L1168.5 557.6L1169.1 561.5L1169.7 567.1L1170.3 574.2L1171.0 582.8L1171.6 592.8L1172.2 604.0L1172.8 616.4L1173.4 629.9L1174.1 644.2L1174.7 659.2L1175.3 674.8L1175.9 690.9L1176.5 707.1L1177.2 723.5L1177.8 739.8L1178.4 755.9L1179.0 771.5L1179.7 786.6L1180.3 801.0L1180.9 814.6L1181.5 827.1L1182.1 838.6L1182.8 848.9L1183.4 857.9L1184.0 865.4L1184.6 871.6L1185.2 876.2L1185.9 879.3L1186.5 880.8L1187.1 880.7L1187.7 879.0L1188.4 875.8L1189.0 871.0L1189.6 864.8L1190.2 857.2L1190.8 848.2L1191.5 838.0L1192.1 826.7L1192.7 814.4L1193.3 801.2L1194.0 787.2L1194.6 772.7L1195.2 757.7L1195.8 742.3L1196.4 726.9L1197.1 711.4L1197.7 696.0L1198.3 681.0L1198.9 666.4L1199.5 652.5L1200.2 639.2L1200.8 626.9L1201.4 615.5L1202.0 605.2L1202.7 596.2L1203.3 588.4L1203.9 582.0L1204.5 576.9L1205.1 573.4L1205.8 571.4L1206.4 570.8L1207.0 571.8L1207.6 574.3L1208.2 578.3L1208.9 583.7L1209.5 590.5L1210.1 598.5L1210.7 607.8L1211.3 618.2L1212.0 629.6L1212.6 641.9L1213.2 655.0L1213.8 668.7L1214.5 683.0L1215.1 697.6L1215.7 712.4L1216.3 727.2L1216.9 742.0L1217.6 756.5L1218.2 770.7L1218.8 784.3L1219.4 797.3L1220.0 809.5L1220.7 820.8L1221.3 831.1L1221.9 840.3L1222.5 848.3L1223.2 855.0L1223.8 860.3L1224.4 864.3L1225.0 866.8L1225.6 867.9L1226.3 867.6L1226.9 865.7L1227.5 862.5L1228.1 857.9L1228.8 851.9L1229.4 844.6L1230.0 836.1L1230.6 826.6L1231.2 816.0L1231.9 804.4L1232.5 792.1L1233.1 779.2L1233.7 765.7L1234.3 751.8L1235.0 737.6L1235.6 723.3L1236.2 709.1L1236.8 695.0L1237.5 681.2L1238.1 667.8L1238.7 655.1L1239.3 643.0L1239.9 631.8L1240.6 621.4L1241.2 612.2L1241.8 604.0L1242.4 597.0L1243.0 591.3L1243.7 587.0L1244.3 583.9L1244.9 582.3L1245.5 582.1L1246.2 583.3L1246.8 585.8L1247.4 589.7L1248.0 595.0L1248.6 601.4L1249.3 609.1L1249.9 617.9L1250.5 627.7L1251.1 638.5L1251.7 650.0L1252.4 662.3L1253.0 675.1L1253.6 688.4L1254.2 702.0L1254.8 715.8L1255.5 729.6L1256.1 743.3L1256.7 756.8L1257.3 769.9L1258.0 782.6L1258.6 794.5L1259.2 805.8L1259.8 816.2L1260.4 825.6L1261.1 833.9L1261.7 841.2L1262.3 847.2L1262.9 851.9L1263.5 855.4L1264.2 857.4L1264.8 858.2L1265.4 857.5L1266.0 855.5L1266.7 852.2L1267.3 847.5L1267.9 841.7L1268.5 834.6L1269.1 826.4L1269.8 817.2L1270.4 807.1L1271.0 796.2L1271.6 784.6L1272.2 772.4L1272.9 759.7L1273.5 746.7L1274.1 733.6L1274.7 720.4L1275.4 707.2L1276.0 694.3L1276.6 681.7L1277.2 669.5L1277.8 658.0L1278.5 647.1L1279.1 637.1L1279.7 627.9L1280.3 619.7L1281.0 612.6L1281.6 606.6L1282.2 601.7L1282.8 598.1L1283.4 595.8L1284.1 594.7L1284.7 594.9L1285.3 596.3L1285.9 599.0L1286.5 603.0L1287.2 608.1L1287.8 614.3L1288.4 621.6L1289.0 629.9L1289.7 639.1L1290.3 649.0L1290.9 659.7L1291.5 671.0L1292.1 682.8L1292.8 694.9L1293.4 707.2L1294.0 719.7L1294.6 732.2L1295.2 744.5L1295.9 756.6L1296.5 768.3L1297.1 779.5L1297.7 790.0L1298.3 799.9L1299.0 809.0L1299.6 817.2L1300.2 824.4L1300.8 830.5L1301.5 835.6L1302.1 839.5L1302.7 842.2L1303.3 843.7L1303.9 843.9L1304.6 843.0L1305.2 840.8L1305.8 837.5L1306.4 833.0L1307.0 827.4L1307.7 820.8L1308.3 813.2L1308.9 804.7L1309.5 795.5L1310.2 785.5L1310.8 775.0L1311.4 763.9L1312.0 752.5L1312.6 740.8L1313.3 729.0L1313.9 717.2L1314.5 705.5L1315.1 694.0L1315.8 682.8L1316.4 672.0L1317.0 661.8L1317.6 652.3L1318.2 643.4L1318.9 635.4L1319.5 628.4L1320.1 622.2L1320.7 617.1L1321.3 613.1L1322.0 610.2L1322.6 608.4L1323.2 607.7L1323.8 608.2L1324.5 609.8L1325.1 612.6L1325.7 616.4L1326.3 621.3L1326.9 627.2L1327.6 634.0L1328.2 641.7L1328.8 650.2L1329.4 659.3L1330.0 669.1L1330.7 679.3L1331.3 690.0L1331.9 700.9L1332.5 712.1L1333.2 723.3L1333.8 734.4L1334.4 745.4L1335.0 756.2L1335.6 766.6L1336.3 776.4L1336.9 785.8L1337.5 794.4L1338.1 802.4L1338.7 809.5L1339.4 815.7L1340.0 820.9L1340.6 825.2L1341.2 828.4L1341.8 830.5L1342.5 831.6L1343.1 831.5L1343.7 830.4L1344.3 828.2L1345.0 824.9L1345.6 820.6L1346.2 815.4L1346.8 809.2L1347.4 802.2L1348.1 794.4L1348.7 785.9L1349.3 776.8L1349.9 767.1L1350.5 757.1L1351.2 746.7L1351.8 736.1L1352.4 725.4L1353.0 714.7L1353.7 704.1L1354.3 693.8L1354.9 683.7L1355.5 674.0L1356.1 664.9L1356.8 656.4L1357.4 648.5L1358.0 641.4L1358.6 635.2L1359.2 629.8L1359.9 625.3L1360.5 621.9L1361.1 619.5L1361.7 618.1L1362.4 617.7L1363.0 618.4L1363.6 620.1L1364.2 622.9L1364.8 626.6L1365.5 631.3L1366.1 636.9L1366.7 643.3L1367.3 650.4L1368.0 658.3L1368.6 666.8L1369.2 675.8L1369.8 685.3L1370.4 695.1L1371.1 705.1L1371.7 715.3L1372.3 725.5L1372.9 735.6L1373.5 745.6L1374.2 755.3L1374.8 764.7L1375.4 773.6L1376.0 782.0L1376.7 789.7L1377.3 796.8L1377.9 803.1L1378.5 808.5L1379.1 813.1L1379.8 816.8L1380.4 819.5L1381.0 821.2L1381.6 822.0L1382.2 821.7L1382.9 820.5L1383.5 818.2L1384.1 815.1L1384.7 811.0L1385.3 806.0L1386.0 800.2L1386.6 793.7L1387.2 786.5L1387.8 778.6L1388.5 770.2L1389.1 761.4L1389.7 752.2L1390.3 742.7L1390.9 733.1L1391.6 723.4L1392.2 713.7L1392.8 704.1L1393.4 694.7L1394.0 685.6L1394.7 677.0L1395.3 668.8L1395.9 661.1L1396.5 654.2L1397.2 647.9L1397.8 642.3L1398.4 637.6L1399.0 633.8L1399.6 630.8L1400.3 628.8L1400.9 627.7L1401.5 627.6L1402.1 628.4L1402.8 630.1L1403.4 632.8L1404.0 636.3L1404.6 640.7L1405.2 645.9L1405.9 651.9L1406.5 658.5L1407.1 665.7L1407.7 673.5L1408.3 681.8L1409.0 690.4L1409.6 699.3L1410.2 708.4L1410.8 717.6L1411.5 726.9L1412.1 736.0L1412.7 745.0L1413.3 753.7L1413.9 762.1L1414.6 770.1L1415.2 777.5L1415.8 784.4L1416.4 790.6L1417.0 796.1L1417.7 800.9L1418.3 804.9L1418.9 808.0L1419.5 810.3L1420.2 811.6L1420.8 812.1L1421.4 811.7L1422.0 810.4L1422.6 808.2L1423.3 805.1L1423.9 801.3L1424.5 796.6L1425.1 791.3L1425.7 785.3L1426.4 778.6L1427.0 771.5L1427.6 763.9L1428.2 755.8L1428.8 747.5L1429.5 739.0L1430.1 730.3L1430.7 721.6L1431.3 712.9L1432.0 704.4L1432.6 696.0L1433.2 688.0L1433.8 680.3L1434.4 673.1L1435.1 666.4L1435.7 660.3L1436.3 654.8L1436.9 650.0L1437.5 645.9L1438.2 642.7L1438.8 640.2L1439.4 638.6L1440.0 637.8L1440.7 637.8L1441.3 638.7L1441.9 640.4L1442.5 642.9L1443.1 646.2L1443.8 650.3L1444.4 655.0L1445.0 660.5L1445.6 666.5L1446.2 673.0L1446.9 680.0L1447.5 687.4L1448.1 695.1L1448.7 703.1L1449.4 711.3L1450.0 719.5L1450.6 727.7L1451.2 735.8L1451.8 743.8L1452.5 751.5L1453.1 758.9L1453.7 766.0L1454.3 772.5L1455.0 778.6L1455.6 784.0L1456.2 788.8L1456.8 793.0L1457.4 796.4L1458.1 799.1L1458.7 801.0L1459.3 802.1L1459.9 802.4L1460.5 801.9L1461.2 800.7L1461.8 798.6L1462.4 795.8L1463.0 792.3L1463.7 788.0L1464.3 783.2L1464.9 777.7L1465.5 771.8L1466.1 765.3L1466.8 758.5L1467.4 751.3L1468.0 743.8L1468.6 736.1L1469.2 728.4L1469.9 720.6L1470.5 712.8L1471.1 705.2L1471.7 697.8L1472.3 690.6L1473.0 683.8L1473.6 677.3L1474.2 671.4L1474.8 665.9L1475.5 661.1L1476.1 656.9L1476.7 653.3L1477.3 650.5L1477.9 648.3L1478.6 647.0L1479.2 646.3L1479.8 646.5L1480.4 647.4L1481.0 649.0L1481.7 651.4L1482.3 654.4L1482.9 658.2L1483.5 662.5L1484.2 667.5L1484.8 673.0L1485.4 678.9L1486.0 685.3L1486.6 692.0L1487.3 699.0L1487.9 706.2L1488.5 713.5L1489.1 720.9L1489.8 728.3L1490.4 735.6L1491.0 742.8L1491.6 749.7L1492.2 756.3L1492.9 762.6L1493.5 768.4L1494.1 773.8L1494.7 778.6L1495.3 782.8L1496.0 786.5L1496.6 789.4L1497.2 791.7L1497.8 793.3L1498.5 794.2L1499.1 794.4L1499.7 793.8L1500.3 792.5L1500.9 790.6L1501.6 787.9L1502.2 784.6L1502.8 780.7L1503.4 776.3L1504.0 771.3L1504.7 765.8L1505.3 760.0L1505.9 753.7L1506.5 747.2L1507.2 740.5L1507.8 733.6L1508.4 726.6L1509.0 719.6L1509.6 712.7L1510.3 705.9L1510.9 699.2L1511.5 692.9L1512.1 686.8L1512.7 681.1L1513.4 675.9L1514.0 671.1L1514.6 666.9L1515.2 663.2L1515.8 660.1L1516.5 657.7L1517.1 655.9L1517.7 654.8L1518.3 654.4L1519.0 654.6L1519.6 655.5L1520.2 657.1L1520.8 659.3L1521.4 662.2L1522.1 665.6L1522.7 669.6L1523.3 674.1L1523.9 679.0L1524.5 684.4L1525.2 690.1L1525.8 696.1L1526.4 702.4L1527.0 708.8L1527.7 715.4L1528.3 721.9L1528.9 728.5L1529.5 735.0L1530.1 741.3L1530.8 747.4L1531.4 753.2L1532.0 758.7L1532.6 763.8L1533.2 768.5L1533.9 772.7L1534.5 776.4L1535.1 779.5L1535.7 782.0L1536.4 784.0L1537.0 785.3L1537.6 786.0L1538.2 786.0L1538.8 785.4L1539.5 784.2L1540.1 782.4L1540.7 780.0L1541.3 777.0L1542.0 773.5L1542.6 769.5L1543.2 765.0L1543.8 760.1L1544.4 754.9L1545.1 749.3L1545.7 743.6L1546.3 737.6L1546.9 731.5L1547.5 725.3L1548.2 719.1L1548.8 713.0L1549.4 707.0L1550.0 701.2L1550.7 695.6L1551.3 690.3L1551.9 685.3L1552.5 680.8L1553.1 676.6L1553.8 672.9L1554.4 669.8L1555.0 667.1L1555.6 665.0L1556.2 663.5L1556.9 662.6L1557.5 662.3L1558.1 662.6L1558.7 663.5L1559.3 665.0L1560.0 667.0L1560.6 669.6L1561.2 672.7L1561.8 676.3L1562.5 680.3L1563.1 684.8L1563.7 689.6L1564.3 694.7L1564.9 700.1L1565.6 705.6L1566.2 711.4L1566.8 717.2L1567.4 723.1L1568.0 728.9L1568.7 734.7L1569.3 740.3L1569.9 745.7L1570.5 750.9L1571.2 755.7L1571.8 760.3L1572.4 764.4L1573.0 768.1L1573.6 771.3L1574.3 774.1L1574.9 776.3L1575.5 777.9L1576.1 779.0L1576.8 779.6L1577.4 779.5L1578.0 778.9L1578.6 777.7L1579.2 776.0L1579.9 773.7L1580.5 771.0L1581.1 767.7L1581.7 764.0L1582.3 759.9L1583.0 755.5L1583.6 750.7L1584.2 745.6L1584.8 740.3L1585.5 734.9L1586.1 729.4L1586.7 723.8L1587.3 718.2L1587.9 712.6L1588.6 707.2L1589.2 702.0L1589.8 696.9L1590.4 692.2L1591.0 687.7L1591.7 683.6L1592.3 679.9L1592.9 676.7L1593.5 673.9L1594.2 671.6L1594.8 669.8L1595.4 668.6L1596.0 667.9L1596.6 667.7L1597.3 668.1L1597.9 669.1L1598.5 670.5L1599.1 672.5L1599.7 675.0L1600.4 677.9L1601.0 681.3L1601.6 685.1L1602.2 689.2L1602.8 693.6L1603.5 698.3L1604.1 703.3L1604.7 708.4L1605.3 713.6L1606.0 718.9L1606.6 724.2L1607.2 729.4L1607.8 734.6L1608.4 739.6L1609.1 744.4L1609.7 749.0L1610.3 753.3L1610.9 757.3L1611.5 760.9L1612.2 764.1L1612.8 766.9L1613.4 769.2L1614.0 771.0L1614.7 772.4L1615.3 773.2L1615.9 773.5L1616.5 773.3L1617.1 772.7L1617.8 771.5L1618.4 769.8L1619.0 767.6L1619.6 765.1L1620.2 762.1L1620.9 758.7L1621.5 755.0L1622.1 750.9L1622.7 746.6L1623.4 742.1L1624.0 737.4L1624.6 732.5L1625.2 727.6L1625.8 722.7L1626.5 717.7L1627.1 712.9L1627.7 708.1L1628.3 703.5L1629.0 699.2L1629.6 695.0L1630.2 691.2L1630.8 687.7L1631.4 684.5L1632.1 681.8L1632.7 679.4L1633.3 677.5L1633.9 676.0L1634.5 675.1L1635.2 674.5L1635.8 674.5L1636.4 674.9L1637.0 675.8L1637.7 677.2L1638.3 679.0L1638.9 681.3L1639.5 683.9L1640.1 686.9L1640.8 690.3L1641.4 693.9L1642.0 697.9L1642.6 702.0L1643.2 706.4L1643.9 710.9L1644.5 715.5L1645.1 720.1L1645.7 724.7L1646.3 729.3L1647.0 733.8L1647.6 738.2L1648.2 742.4L1648.8 746.4L1649.5 750.2L1650.1 753.6L1650.7 756.7L1651.3 759.5L1651.9 761.9L1652.6 763.8L1653.2 765.4L1653.8 766.5L1654.4 767.2L1655.0 767.4L1655.7 767.2L1656.3 766.5L1656.9 765.4L1657.5 763.9L1658.2 761.9L1658.8 759.6L1659.4 756.9L1660.0 753.9L1660.6 750.5L1661.3 746.9L1661.9 743.1L1662.5 739.1L1663.1 734.9L1663.8 730.6L1664.4 726.2L1665.0 721.9L1665.6 717.5L1666.2 713.2L1666.9 709.0L1667.5 705.0L1668.1 701.2L1668.7 697.5L1669.3 694.2L1670.0 691.1L1670.6 688.4L1671.2 686.0L1671.8 684.0L1672.5 682.3L1673.1 681.1L1673.7 680.3L1674.3 679.9L1674.9 680.0L1675.6 680.4L1676.2 681.3L1676.8 682.6L1677.4 684.3L1678.0 686.3L1678.7 688.7L1679.3 691.5L1679.9 694.5L1680.5 697.8L1681.2 701.3L1681.8 705.0L1682.4 708.9L1683.0 712.9L1683.6 716.9L1684.3 721.1L1684.9 725.2L1685.5 729.2L1686.1 733.2L1686.7 737.0L1687.4 740.7L1688.0 744.2L1688.6 747.5L1689.2 750.5L1689.8 753.2L1690.5 755.5L1691.1 757.6L1691.7 759.3L1692.3 760.6L1693.0 761.5L1693.6 762.0L1694.2 762.1L1694.8 761.9L1695.4 761.2L1696.1 760.2L1696.7 758.7L1697.3 757.0L1697.9 754.8L1698.5 752.4L1699.2 749.7L1699.8 746.7L1700.4 743.5L1701.0 740.1L1701.7 736.5L1702.3 732.8L1702.9 729.0L1703.5 725.2L1704.1 721.3L1704.8 717.5L1705.4 713.7L1706.0 710.0L1706.6 706.5L1707.2 703.2L1707.9 700.0L1708.5 697.1L1709.1 694.5L1709.7 692.1L1710.4 690.1L1711.0 688.4L1711.6 687.0L1712.2 686.0L1712.8 685.4L1713.5 685.1L1714.1 685.2L1714.7 685.7L1715.3 686.5L1716.0 687.7L1716.6 689.2L1717.2 691.1L1717.8 693.2L1718.4 695.7L1719.1 698.4L1719.7 701.3L1720.3 704.4L1720.9 707.7L1721.5 711.1L1722.2 714.6L1722.8 718.2L1723.4 721.8L1724.0 725.4L1724.7 728.9L1725.3 732.3L1725.9 735.7L1726.5 738.9L1727.1 741.9L1727.8 744.7L1728.4 747.3L1729.0 749.6L1729.6 751.6L1730.2 753.3L1730.9 754.7L1731.5 755.8L1732.1 756.5L1732.7 756.9L1733.3 757.0L1734.0 756.7L1734.6 756.0L1735.2 755.1L1735.8 753.8L1736.5 752.2L1737.1 750.3L1737.7 748.1L1738.3 745.7L1738.9 743.1L1739.6 740.3L1740.2 737.3L1740.8 734.1L1741.4 730.9L1742.0 727.6L1742.7 724.3L1743.3 720.9L1743.9 717.6L1744.5 714.4L1745.2 711.2L1745.8 708.2L1746.4 705.3L1747.0 702.6L1747.6 700.1L1748.3 697.9L1748.9 695.9L1749.5 694.1L1750.1 692.7L1750.8 691.6L1751.4 690.7L1752.0 690.2L1752.6 690.0L1753.2 690.2L1753.9 690.6L1754.5 691.4L1755.1 692.5L1755.7 693.8L1756.3 695.5L1757.0 697.4L1757.6 699.5L1758.2 701.9L1758.8 704.4L1759.5 707.2L1760.1 710.0L1760.7 713.0L1761.3 716.0L1761.9 719.1L1762.6 722.3L1763.2 725.4L1763.8 728.4L1764.4 731.4L1765.0 734.3L1765.7 737.0L1766.3 739.6L1766.9 742.0L1767.5 744.2L1768.2 746.2L1768.8 747.9L1769.4 749.4L1770.0 750.6L1770.6 751.5L1771.3 752.1L1771.9 752.4L1772.5 752.4L1773.1 752.1L1773.7 751.5L1774.4 750.7L1775.0 749.5L1775.6 748.1L1776.2 746.4L1776.8 744.5L1777.5 742.4L1778.1 740.1L1778.7 737.6L1779.3 735.0L1780.0 732.3L1780.6 729.5L1781.2 726.6L1781.8 723.7L1782.4 720.8L1783.1 717.9L1783.7 715.1L1784.3 712.4L1784.9 709.8L1785.6 707.3L1786.2 704.9L1786.8 702.8L1787.4 700.9L1788.0 699.2L1788.7 697.7L1789.3 696.5L1789.9 695.5L1790.5 694.8L1791.1 694.4L1791.8 694.3L1792.4 694.4L1793.0 694.8L1793.6 695.5L1794.2 696.5L1794.9 697.7L1795.5 699.1L1796.1 700.8L1796.7 702.7L1797.4 704.8L1798.0 707.0L1798.6 709.4L1799.2 711.9L1799.8 714.5L1800.5 717.2L1801.1 719.9L1801.7 722.6L1802.3 725.3L1802.9 727.9L1803.6 730.5L1804.2 733.0L1804.8 735.4L1805.4 737.7L1806.1 739.8L1806.7 741.7L1807.3 743.4L1807.9 744.9L1808.5 746.1L1809.2 747.1L1809.8 747.9L1810.4 748.4L1811.0 748.6L1811.7 748.6L1812.3 748.3L1812.9 747.8L1813.5 747.0L1814.1 746.0L1814.8 744.7L1815.4 743.2L1816.0 741.5L1816.6 739.7L1817.2 737.6L1817.9 735.4L1818.5 733.1L1819.1 730.7L1819.7 728.3L1820.3 725.7L1821.0 723.2L1821.6 720.6L1822.2 718.1L1822.8 715.7L1823.5 713.3L1824.1 711.0L1824.7 708.8L1825.3 706.8L1825.9 705.0L1826.6 703.3L1827.2 701.8L1827.8 700.5L1828.4 699.5L1829.1 698.7L1829.7 698.1L1830.3 697.8L1830.9 697.8L1831.5 697.9L1832.2 698.4L1832.8 699.0L1833.4 699.9L1834.0 701.0L1834.6 702.3L1835.3 703.8L1835.9 705.5L1836.5 707.3L1837.1 709.3L1837.8 711.4L1838.4 713.6L1839.0 715.9L1839.6 718.2L1840.2 720.5L1840.9 722.9L1841.5 725.2L1842.1 727.5L1842.7 729.7L1843.3 731.8L1844.0 733.9L1844.6 735.8L1845.2 737.5L1845.8 739.1L1846.4 740.5L1847.1 741.7L1847.7 742.8L1848.3 743.6L1848.9 744.2L1849.6 744.6L1850.2 744.7L1850.8 744.6L1851.4 744.4L1852.0 743.8L1852.7 743.1L1853.3 742.2L1853.9 741.1L1854.5 739.8L1855.2 738.4L1855.8 736.8L1856.4 735.0L1857.0 733.2L1857.6 731.2L1858.3 729.2L1858.9 727.1L1859.5 725.0L1860.1 722.8L1860.7 720.7L1861.4 718.6L1862.0 716.6L1862.6 714.6L1863.2 712.7L1863.8 710.9L1864.5 709.2L1865.1 707.7L1865.7 706.4L1866.3 705.1L1867.0 704.1L1867.6 703.3L1868.2 702.6L1868.8 702.2L1869.4 701.9L1870.1 701.9L1870.7 702.0L1871.3 702.4L1871.9 703.0L1872.6 703.7L1873.2 704.6L1873.8 705.7L1874.4 707.0L1875.0 708.4L1875.7 710.0L1876.3 711.6L1876.9 713.4L1877.5 715.2L1878.1 717.1L1878.8 719.1L1879.4 721.0L1880.0 723.0L1880.6 725.0L1881.2 726.9L1881.9 728.8L1882.5 730.6L1883.1 732.3L1883.7 733.9L1884.4 735.4L1885.0 736.7L1885.6 737.9L1886.2 738.9L1886.8 739.8L1887.5 740.5L1888.1 741.0L1888.7 741.3L1889.3 741.4L1889.9 741.4L1890.6 741.1L1891.2 740.7L1891.8 740.0L1892.4 739.2L1893.1 738.3L1893.7 737.1L1894.3 735.9L1894.9 734.5L1895.5 732.9L1896.2 731.3L1896.8 729.6L1897.4 727.9L1898.0 726.1L1898.7 724.2L1899.3 722.4L1899.9 720.5L1900.5 718.7L1901.1 716.9L1901.8 715.2L1902.4 713.6L1903.0 712.0L1903.6 710.6L1904.2 709.3L1904.9 708.1L1905.5 707.1L1906.1 706.3L1906.7 705.6L1907.3 705.0L1908.0 704.7L1908.6 704.5L1909.2 704.5L1909.8 704.7L1910.5 705.1L1911.1 705.6L1911.7 706.3L1912.3 707.1L1912.9 708.2L1913.6 709.3L1914.2 710.6L1914.8 711.9L1915.4 713.4L1916.1 715.0L1916.7 716.6L1917.3 718.2L1917.9 719.9L1918.5 721.7L1919.2 723.4L1919.8 725.1L1920.4 726.7L1921.0 728.3L1921.6 729.9L1922.3 731.3L1922.9 732.7L1923.5 733.9L1924.1 735.1L1924.8 736.1L1925.4 736.9L1926.0 737.6L1926.6 738.2L1927.2 738.5L1927.9 738.8L1928.5 738.8L1929.1 738.7" stroke="#d95319" stroke-width="4.4" stroke-dasharray="18.5 18.2" stroke-dashoffset="7.5"/>
<path d="M189.1 721.7L190.3 720.9L191.6 720.1L192.8 719.3L194.1 718.6L195.3 717.9L196.6 717.3L197.8 716.8L199.0 716.3L200.3 715.9L201.5 715.7L202.8 715.5L204.0 715.4L205.3 715.5L206.5 715.6L207.7 715.8L209.0 716.1L210.2 716.5L211.5 717.0L212.7 717.5L214.0 718.2L215.2 718.9L216.4 719.7L217.7 720.6L218.9 721.6L220.2 722.6L221.4 723.7L222.7 724.9L223.9 726.1L225.1 727.3L226.4 728.6L227.6 729.8L228.9 731.0L230.1 732.0L231.4 733.0L232.6 733.7L233.8 734.3L235.1 734.5L236.3 734.4L237.6 733.8L238.8 732.8L240.1 731.2L241.3 729.1L242.5 726.4L243.8 723.4L245.0 720.1L246.3 716.7L247.5 713.4L248.8 710.5L250.0 708.0L251.2 706.2L252.5 705.1L253.7 704.8L255.0 705.2L256.2 706.4L257.5 708.1L258.7 710.5L259.9 713.3L261.2 716.5L262.4 719.9L263.7 723.4L264.9 726.9L266.2 730.1L267.4 733.0L268.6 735.4L269.9 737.3L271.1 738.6L272.4 739.1L273.6 739.0L274.9 738.2L276.1 736.8L277.3 734.7L278.6 731.9L279.8 728.7L281.1 725.0L282.3 721.0L283.6 716.9L284.8 712.8L286.0 709.1L287.3 705.8L288.5 703.1L289.8 701.2L291.0 700.2L292.3 700.1L293.5 700.8L294.7 702.3L296.0 704.5L297.2 707.3L298.5 710.6L299.7 714.3L301.0 718.2L302.2 722.2L303.4 726.2L304.7 730.0L305.9 733.5L307.2 736.6L308.4 739.3L309.7 741.3L310.9 742.6L312.1 743.1L313.4 742.9L314.6 741.8L315.9 740.0L317.1 737.5L318.4 734.4L319.6 730.7L320.8 726.7L322.1 722.5L323.3 718.2L324.6 714.0L325.8 710.1L327.1 706.7L328.3 703.8L329.5 701.7L330.8 700.4L332.0 699.9L333.3 700.3L334.5 701.6L335.8 703.8L337.0 706.7L338.2 710.3L339.5 714.4L340.7 718.8L342.0 723.4L343.2 727.9L344.5 732.1L345.7 735.9L346.9 739.1L348.2 741.5L349.4 743.1L350.7 743.8L351.9 743.5L353.2 742.3L354.4 740.2L355.6 737.4L356.9 733.9L358.1 729.9L359.4 725.6L360.6 721.2L361.9 716.7L363.1 712.5L364.3 708.7L365.6 705.4L366.8 702.8L368.1 701.0L369.3 700.0L370.6 700.0L371.8 700.8L373.0 702.5L374.3 705.0L375.5 708.2L376.8 711.9L378.0 716.0L379.3 720.4L380.5 724.7L381.7 728.9L383.0 732.8L384.2 736.2L385.5 739.0L386.7 741.0L388.0 742.3L389.2 742.7L390.4 742.2L391.7 740.9L392.9 738.8L394.2 735.9L395.4 732.5L396.7 728.7L397.9 724.6L399.1 720.3L400.4 716.2L401.6 712.3L402.9 708.7L404.1 705.8L405.4 703.5L406.6 701.9L407.8 701.2L409.1 701.4L410.3 702.4L411.6 704.1L412.8 706.6L414.1 709.7L415.3 713.2L416.5 717.0L417.8 720.9L419.0 724.8L420.3 728.5L421.5 731.9L422.8 734.9L424.0 737.2L425.2 739.0L426.5 740.0L427.7 740.3L429.0 739.9L430.2 738.8L431.5 736.9L432.7 734.5L433.9 731.5L435.2 728.2L436.4 724.6L437.7 720.9L438.9 717.3L440.2 713.8L441.4 710.7L442.6 708.0L443.9 705.9L445.1 704.4L446.4 703.6L447.6 703.6L448.9 704.3L450.1 705.7L451.3 707.7L452.6 710.3L453.8 713.3L455.1 716.7L456.3 720.2L457.6 723.8L458.8 727.3L460.0 730.5L461.3 733.4L462.5 735.7L463.8 737.5L465.0 738.7L466.3 739.2L467.5 738.9L468.7 738.0L470.0 736.4L471.2 734.3L472.5 731.6L473.7 728.5L475.0 725.2L476.2 721.7L477.4 718.2L478.7 714.8L479.9 711.8L481.2 709.1L482.4 707.0L483.7 705.4L484.9 704.5L486.1 704.3L487.4 704.9L488.6 706.0L489.9 707.9L491.1 710.3L492.4 713.1L493.6 716.2L494.8 719.6L496.1 723.0L497.3 726.4L498.6 729.5L499.8 732.4L501.1 734.7L502.3 736.5L503.5 737.8L504.8 738.3L506.0 738.2L507.3 737.5L508.5 736.1L509.8 734.1L511.0 731.6L512.2 728.8L513.5 725.6L514.7 722.4L516.0 719.1L517.2 715.9L518.5 713.0L519.7 710.4L520.9 708.3L522.2 706.7L523.4 705.8L524.7 705.5L525.9 705.8L527.2 706.9L528.4 708.5L529.6 710.6L530.9 713.2L532.1 716.1L533.4 719.2L534.6 722.5L535.9 725.6L537.1 728.6L538.3 731.3L539.6 733.6L540.8 735.4L542.1 736.6L543.3 737.2L544.6 737.1L545.8 736.5L547.0 735.2L548.3 733.3L549.5 731.0L550.8 728.4L552.0 725.5L553.3 722.5L554.5 719.5L555.7 716.6L557.0 713.9L558.2 711.6L559.5 709.7L560.7 708.4L562.0 707.5L563.2 707.3L564.4 707.7L565.7 708.6L566.9 710.1L568.2 712.0L569.4 714.3L570.7 717.0L571.9 719.8L573.1 722.6L574.4 725.5L575.6 728.1L576.9 730.4L578.1 732.4L579.4 733.9L580.6 734.9L581.8 735.3L583.1 735.1L584.3 734.4L585.6 733.2L586.8 731.4L588.1 729.3L589.3 726.9L590.5 724.2L591.8 721.5L593.0 718.8L594.3 716.2L595.5 713.9L596.8 711.9L598.0 710.3L599.2 709.2L600.5 708.6L601.7 708.6L603.0 709.1L604.2 710.1L605.5 711.6L606.7 713.5L607.9 715.7L609.2 718.1L610.4 720.7L611.7 723.3L612.9 725.8L614.2 728.1L615.4 730.2L616.6 731.9L617.9 733.2L619.1 734.1L620.4 734.4L621.6 734.2L622.9 733.5L624.1 732.4L625.3 730.8L626.6 728.9L627.8 726.6L629.1 724.2L630.3 721.7L631.6 719.2L632.8 716.7L634.0 714.5L635.3 712.6L636.5 711.1L637.8 710.0L639.0 709.3L640.3 709.2L641.5 709.6L642.7 710.4L644.0 711.7L645.2 713.4L646.5 715.5L647.7 717.7L649.0 720.2L650.2 722.7L651.4 725.1L652.7 727.4L653.9 729.5L655.2 731.2L656.4 732.6L657.7 733.5L658.9 733.9L660.1 733.8L661.4 733.3L662.6 732.2L663.9 730.8L665.1 729.0L666.4 726.9L667.6 724.6L668.8 722.2L670.1 719.8L671.3 717.5L672.6 715.3L673.8 713.4L675.1 711.8L676.3 710.7L677.5 710.0L678.8 709.8L680.0 710.0L681.3 710.8L682.5 712.0L683.8 713.6L685.0 715.6L686.2 717.8L687.5 720.2L688.7 722.6L690.0 725.0L691.2 727.2L692.5 729.2L693.7 730.8L694.9 732.1L696.2 732.9L697.4 733.2L698.7 733.1L699.9 732.4L701.2 731.3L702.4 729.8L703.6 728.0L704.9 725.8L706.1 723.6L707.4 721.2L708.6 718.9L709.9 716.7L711.1 714.7L712.3 713.0L713.6 711.7L714.8 710.8L716.1 710.4L717.3 710.4L718.6 711.0L719.8 712.0L721.0 713.4L722.3 715.1L723.5 717.2L724.8 719.4L726.0 721.7L727.3 724.0L728.5 726.2L729.7 728.2L731.0 729.9L732.2 731.2L733.5 732.2L734.7 732.7L736.0 732.7L737.2 732.3L738.4 731.4L739.7 730.1L740.9 728.4L742.2 726.5L743.4 724.3L744.7 722.1L745.9 719.8L747.1 717.7L748.4 715.7L749.6 714.0L750.9 712.6L752.1 711.6L753.4 711.1L754.6 710.9L755.8 711.3L757.1 712.1L758.3 713.2L759.6 714.7L760.8 716.5L762.1 718.5L763.3 720.6L764.5 722.8L765.8 724.9L767.0 726.8L768.3 728.5L769.5 730.0L770.8 731.1L772.0 731.8L773.2 732.1L774.5 731.9L775.7 731.3L777.0 730.4L778.2 729.0L779.5 727.4L780.7 725.5L781.9 723.5L783.2 721.4L784.4 719.3L785.7 717.4L786.9 715.6L788.2 714.1L789.4 712.9L790.6 712.0L791.9 711.6L793.1 711.6L794.4 711.9L795.6 712.7L796.9 713.8L798.1 715.3L799.3 717.0L800.6 718.8L801.8 720.8L803.1 722.8L804.3 724.7L805.6 726.6L806.8 728.2L808.0 729.5L809.3 730.6L810.5 731.2L811.8 731.5L813.0 731.4L814.3 731.0L815.5 730.1L816.7 728.9L818.0 727.4L819.2 725.7L820.5 723.9L821.7 722.0L823.0 720.0L824.2 718.2L825.4 716.5L826.7 715.0L827.9 713.8L829.2 712.9L830.4 712.3L831.7 712.2L832.9 712.4L834.1 713.0L835.4 713.9L836.6 715.1L837.9 716.6L839.1 718.3L840.4 720.1L841.6 721.9L842.8 723.8L844.1 725.5L845.3 727.1L846.6 728.5L847.8 729.5L849.1 730.3L850.3 730.7L851.5 730.8L852.8 730.4L854.0 729.8L855.3 728.8L856.5 727.6L857.8 726.1L859.0 724.4L860.2 722.6L861.5 720.9L862.7 719.1L864.0 717.5L865.2 716.0L866.5 714.7L867.7 713.8L868.9 713.2L870.2 712.9L871.4 712.9L872.7 713.3L873.9 714.0L875.2 715.0L876.4 716.3L877.6 717.8L878.9 719.4L880.1 721.2L881.4 722.9L882.6 724.6L883.9 726.1L885.1 727.5L886.3 728.6L887.6 729.5L888.8 730.0L890.1 730.3L891.3 730.1L892.6 729.7L893.8 728.9L895.0 727.9L896.3 726.6L897.5 725.1L898.8 723.5L900.0 721.9L901.3 720.2L902.5 718.6L903.7 717.2L905.0 715.9L906.2 714.8L907.5 714.0L908.7 713.6L910.0 713.4L911.2 713.6L912.4 714.1L913.7 714.9L914.9 716.0L916.2 717.4L917.4 718.9L918.7 720.5L919.9 722.1L921.1 723.8L922.4 725.3L923.6 726.7L924.9 727.8L926.1 728.7L927.4 729.3L928.6 729.6L929.8 729.5L931.1 729.2L932.3 728.5L933.6 727.5L934.8 726.3L936.1 724.9L937.3 723.4L938.5 721.8L939.8 720.2L941.0 718.7L942.3 717.3L943.5 716.1L944.8 715.2L946.0 714.5L947.2 714.1L948.5 714.0L949.7 714.2L951.0 714.8L952.2 715.6L953.5 716.6L954.7 717.9L955.9 719.3L957.2 720.8L958.4 722.3L959.7 723.8L960.9 725.2L962.2 726.4L963.4 727.5L964.6 728.3L965.9 728.8L967.1 729.1L968.4 729.0L969.6 728.7L970.9 728.0L972.1 727.2L973.3 726.1L974.6 724.8L975.8 723.4L977.1 722.0L978.3 720.5L979.6 719.1L980.8 717.8L982.0 716.7L983.3 715.7L984.5 715.1L985.8 714.6L987.0 714.5L988.3 714.7L989.5 715.1L990.7 715.8L992.0 716.8L993.2 717.9L994.5 719.2L995.7 720.5L997.0 722.0L998.2 723.3L999.4 724.7L1000.7 725.9L1001.9 726.9L1003.2 727.7L1004.4 728.2L1005.7 728.5L1006.9 728.5L1008.1 728.3L1009.4 727.7L1010.6 727.0L1011.9 726.0L1013.1 724.8L1014.4 723.6L1015.6 722.2L1016.8 720.8L1018.1 719.5L1019.3 718.3L1020.6 717.2L1021.8 716.3L1023.1 715.6L1024.3 715.2L1025.5 715.0L1026.8 715.1L1028.0 715.5L1029.3 716.1L1030.5 716.9L1031.8 717.9L1033.0 719.1L1034.2 720.3L1035.5 721.6L1036.7 722.9L1038.0 724.1L1039.2 725.3L1040.5 726.3L1041.7 727.0L1042.9 727.6L1044.2 728.0L1045.4 728.1L1046.7 727.9L1047.9 727.5L1049.2 726.8L1050.4 726.0L1051.6 725.0L1052.9 723.8L1054.1 722.6L1055.4 721.4L1056.6 720.1L1057.9 719.0L1059.1 717.9L1060.3 717.0L1061.6 716.3L1062.8 715.8L1064.1 715.6L1065.3 715.5L1066.6 715.8L1067.8 716.2L1069.0 716.9L1070.3 717.8L1071.5 718.8L1072.8 719.9L1074.0 721.1L1075.3 722.3L1076.5 723.5L1077.7 724.6L1079.0 725.6L1080.2 726.4L1081.5 727.0L1082.7 727.4L1084.0 727.5L1085.2 727.5L1086.4 727.2L1087.7 726.7L1088.9 725.9L1090.2 725.1L1091.4 724.1L1092.7 723.0L1093.9 721.8L1095.1 720.7L1096.4 719.6L1097.6 718.6L1098.9 717.8L1100.1 717.1L1101.4 716.5L1102.6 716.2L1103.8 716.2L1105.1 716.3L1106.3 716.6L1107.6 717.2L1108.8 717.9L1110.1 718.8L1111.3 719.7L1112.5 720.8L1113.8 721.8L1115.0 722.9L1116.3 723.9L1117.5 724.8L1118.8 725.5L1120.0 726.1L1121.2 726.6L1122.5 726.8L1123.7 726.8L1125.0 726.6L1126.2 726.2L1127.5 725.7L1128.7 725.0L1129.9 724.1L1131.2 723.2L1132.4 722.2L1133.7 721.3L1134.9 720.3L1136.2 719.4L1137.4 718.6L1138.6 717.9L1139.9 717.4L1141.1 717.1L1142.4 716.9L1143.6 716.9L1144.9 717.2L1146.1 717.6L1147.3 718.2L1148.6 718.9L1149.8 719.7L1151.1 720.7L1152.3 721.6L1153.6 722.5L1154.8 723.4L1156.0 724.2L1157.3 724.9L1158.5 725.5L1159.8 725.9L1161.0 726.1L1162.3 726.1L1163.5 725.9L1164.7 725.6L1166.0 725.1L1167.2 724.4L1168.5 723.7L1169.7 722.8L1171.0 721.9L1172.2 721.0L1173.4 720.2L1174.7 719.4L1175.9 718.7L1177.2 718.2L1178.4 717.8L1179.7 717.5L1180.9 717.5L1182.1 717.6L1183.4 717.8L1184.6 718.2L1185.9 718.7L1187.1 719.3L1188.4 720.0L1189.6 720.7L1190.8 721.5L1192.1 722.2L1193.3 722.9L1194.6 723.6L1195.8 724.2L1197.1 724.7L1198.3 725.1L1199.5 725.4L1200.8 725.5L1202.0 725.5L1203.3 725.4L1204.5 725.1L1205.8 724.7L1207.0 724.2L1208.2 723.7L1209.5 723.0L1210.7 722.4L1212.0 721.7L1213.2 721.0L1214.5 720.4L1215.7 719.8L1216.9 719.2L1218.2 718.8L1219.4 718.5L1220.7 718.3L1221.9 718.2L1223.2 718.3L1224.4 718.4L1225.6 718.7L1226.9 719.0L1228.1 719.5L1229.4 720.0L1230.6 720.5L1231.9 721.1L1233.1 721.7L1234.3 722.2L1235.6 722.8L1236.8 723.3L1238.1 723.7L1239.3 724.1L1240.6 724.4L1241.8 724.6L1243.0 724.7L1244.3 724.7L1245.5 724.5L1246.8 724.4L1248.0 724.1L1249.3 723.7L1250.5 723.3L1251.7 722.9L1253.0 722.4L1254.2 721.9L1255.5 721.4L1256.7 720.9L1258.0 720.4L1259.2 720.0L1260.4 719.7L1261.7 719.4L1262.9 719.2L1264.2 719.1L1265.4 719.1L1266.7 719.2L1267.9 719.3L1269.1 719.6L1270.4 719.9L1271.6 720.2L1272.9 720.6L1274.1 721.1L1275.4 721.5L1276.6 722.0L1277.8 722.4L1279.1 722.8L1280.3 723.2L1281.6 723.5L1282.8 723.7L1284.1 723.9L1285.3 723.9L1286.5 723.9L1287.8 723.8L1289.0 723.6L1290.3 723.4L1291.5 723.1L1292.8 722.8L1294.0 722.4L1295.2 722.0L1296.5 721.6L1297.7 721.2L1299.0 720.8L1300.2 720.5L1301.5 720.2L1302.7 719.9L1303.9 719.8L1305.2 719.6L1306.4 719.6L1307.7 719.6L1308.9 719.8L1310.2 719.9L1311.4 720.2L1312.6 720.5L1313.9 720.9L1315.1 721.3L1316.4 721.7L1317.6 722.1L1318.9 722.5L1320.1 722.8L1321.3 723.1L1322.6 723.4L1323.8 723.6L1325.1 723.7L1326.3 723.7L1327.6 723.7L1328.8 723.6L1330.0 723.4L1331.3 723.1L1332.5 722.8L1333.8 722.5L1335.0 722.1L1336.3 721.7L1337.5 721.2L1338.7 720.8L1340.0 720.4L1341.2 720.1L1342.5 719.8L1343.7 719.6L1345.0 719.4L1346.2 719.4L1347.4 719.4L1348.7 719.5L1349.9 719.7L1351.2 719.9L1352.4 720.3L1353.7 720.7L1354.9 721.1L1356.1 721.6L1357.4 722.0L1358.6 722.5L1359.9 723.0L1361.1 723.4L1362.4 723.8L1363.6 724.1L1364.8 724.3L1366.1 724.4L1367.3 724.4L1368.6 724.4L1369.8 724.2L1371.1 723.9L1372.3 723.6L1373.5 723.1L1374.8 722.7L1376.0 722.1L1377.3 721.5L1378.5 721.0L1379.8 720.4L1381.0 719.9L1382.2 719.4L1383.5 719.0L1384.7 718.7L1386.0 718.5L1387.2 718.4L1388.5 718.4L1389.7 718.6L1390.9 718.8L1392.2 719.2L1393.4 719.7L1394.7 720.3L1395.9 721.0L1397.2 721.6L1398.4 722.4L1399.6 723.0L1400.9 723.7L1402.1 724.3L1403.4 724.8L1404.6 725.1L1405.9 725.4L1407.1 725.5L1408.3 725.4L1409.6 725.2L1410.8 724.9L1412.1 724.4L1413.3 723.8L1414.6 723.2L1415.8 722.4L1417.0 721.6L1418.3 720.9L1419.5 720.1L1420.8 719.4L1422.0 718.8L1423.3 718.3L1424.5 717.9L1425.7 717.6L1427.0 717.5L1428.2 717.6L1429.5 717.8L1430.7 718.1L1432.0 718.6L1433.2 719.2L1434.4 719.9L1435.7 720.7L1436.9 721.5L1438.2 722.3L1439.4 723.1L1440.7 723.9L1441.9 724.5L1443.1 725.1L1444.4 725.6L1445.6 725.9L1446.9 726.1L1448.1 726.1L1449.4 726.0L1450.6 725.7L1451.8 725.2L1453.1 724.7L1454.3 724.0L1455.6 723.2L1456.8 722.4L1458.1 721.5L1459.3 720.6L1460.5 719.8L1461.8 719.0L1463.0 718.3L1464.3 717.7L1465.5 717.3L1466.8 717.0L1468.0 716.9L1469.2 716.9L1470.5 717.2L1471.7 717.6L1473.0 718.2L1474.2 719.0L1475.5 719.8L1476.7 720.7L1477.9 721.7L1479.2 722.7L1480.4 723.7L1481.7 724.6L1482.9 725.3L1484.2 726.0L1485.4 726.4L1486.6 726.7L1487.9 726.8L1489.1 726.7L1490.4 726.4L1491.6 725.9L1492.9 725.2L1494.1 724.3L1495.3 723.4L1496.6 722.4L1497.8 721.3L1499.1 720.3L1500.3 719.3L1501.6 718.4L1502.8 717.6L1504.0 717.0L1505.3 716.5L1506.5 716.3L1507.8 716.2L1509.0 716.4L1510.3 716.8L1511.5 717.3L1512.7 718.1L1514.0 719.0L1515.2 720.0L1516.5 721.1L1517.7 722.2L1519.0 723.3L1520.2 724.3L1521.4 725.3L1522.7 726.1L1523.9 726.8L1525.2 727.2L1526.4 727.5L1527.7 727.5L1528.9 727.3L1530.1 726.9L1531.4 726.2L1532.6 725.4L1533.9 724.4L1535.1 723.4L1536.4 722.2L1537.6 721.0L1538.8 719.9L1540.1 718.8L1541.3 717.8L1542.6 717.0L1543.8 716.3L1545.1 715.9L1546.3 715.7L1547.5 715.7L1548.8 715.9L1550.0 716.4L1551.3 717.1L1552.5 718.0L1553.8 719.0L1555.0 720.1L1556.2 721.3L1557.5 722.5L1558.7 723.7L1560.0 724.7L1561.2 725.7L1562.5 726.5L1563.7 727.1L1564.9 727.5L1566.2 727.7L1567.4 727.6L1568.7 727.3L1569.9 726.8L1571.2 726.1L1572.4 725.2L1573.6 724.1L1574.9 723.0L1576.1 721.8L1577.4 720.6L1578.6 719.4L1579.9 718.4L1581.1 717.4L1582.3 716.7L1583.6 716.1L1584.8 715.8L1586.1 715.6L1587.3 715.8L1588.6 716.1L1589.8 716.7L1591.0 717.4L1592.3 718.4L1593.5 719.4L1594.8 720.6L1596.0 721.8L1597.3 723.0L1598.5 724.1L1599.7 725.2L1601.0 726.1L1602.2 726.8L1603.5 727.3L1604.7 727.6L1606.0 727.7L1607.2 727.5L1608.4 727.1L1609.7 726.5L1610.9 725.7L1612.2 724.8L1613.4 723.7L1614.7 722.5L1615.9 721.3L1617.1 720.1L1618.4 719.0L1619.6 718.0L1620.9 717.1L1622.1 716.4L1623.4 715.9L1624.6 715.7L1625.8 715.7L1627.1 715.9L1628.3 716.3L1629.6 717.0L1630.8 717.8L1632.1 718.8L1633.3 719.9L1634.5 721.1L1635.8 722.3L1637.0 723.4L1638.3 724.5L1639.5 725.5L1640.8 726.4L1642.0 727.0L1643.2 727.5L1644.5 727.7L1645.7 727.7L1647.0 727.4L1648.2 726.9L1649.5 726.2L1650.7 725.3L1651.9 724.3L1653.2 723.2L1654.4 722.0L1655.7 720.8L1656.9 719.7L1658.2 718.6L1659.4 717.6L1660.6 716.8L1661.9 716.2L1663.1 715.8L1664.4 715.6L1665.6 715.7L1666.9 716.0L1668.1 716.5L1669.3 717.3L1670.6 718.2L1671.8 719.2L1673.1 720.3L1674.3 721.5L1675.6 722.7L1676.8 723.8L1678.0 724.9L1679.3 725.8L1680.5 726.6L1681.8 727.2L1683.0 727.6L1684.3 727.7L1685.5 727.6L1686.7 727.3L1688.0 726.7L1689.2 726.0L1690.5 725.1L1691.7 724.0L1693.0 722.9L1694.2 721.7L1695.4 720.5L1696.7 719.4L1697.9 718.3L1699.2 717.4L1700.4 716.7L1701.7 716.1L1702.9 715.8L1704.1 715.6L1705.4 715.8L1706.6 716.1L1707.9 716.7L1709.1 717.4L1710.4 718.3L1711.6 719.4L1712.8 720.5L1714.1 721.7L1715.3 722.9L1716.6 724.0L1717.8 725.0L1719.1 725.9L1720.3 726.7L1721.5 727.2L1722.8 727.6L1724.0 727.7L1725.3 727.6L1726.5 727.2L1727.8 726.7L1729.0 725.9L1730.2 725.0L1731.5 724.0L1732.7 722.9L1734.0 721.7L1735.2 720.5L1736.5 719.4L1737.7 718.3L1738.9 717.4L1740.2 716.7L1741.4 716.1L1742.7 715.8L1743.9 715.6L1745.2 715.8L1746.4 716.1L1747.6 716.7L1748.9 717.4L1750.1 718.4L1751.4 719.4L1752.6 720.6L1753.9 721.8L1755.1 723.0L1756.3 724.1L1757.6 725.1L1758.8 726.1L1760.1 726.8L1761.3 727.3L1762.6 727.6L1763.8 727.7L1765.0 727.5L1766.3 727.1L1767.5 726.5L1768.8 725.7L1770.0 724.7L1771.3 723.7L1772.5 722.5L1773.7 721.3L1775.0 720.1L1776.2 719.0L1777.5 718.0L1778.7 717.1L1780.0 716.4L1781.2 715.9L1782.4 715.7L1783.7 715.7L1784.9 715.9L1786.2 716.3L1787.4 717.0L1788.7 717.8L1789.9 718.8L1791.1 719.9L1792.4 721.0L1793.6 722.2L1794.9 723.4L1796.1 724.5L1797.4 725.5L1798.6 726.3L1799.8 727.0L1801.1 727.4L1802.3 727.7L1803.6 727.7L1804.8 727.4L1806.1 727.0L1807.3 726.3L1808.5 725.5L1809.8 724.5L1811.0 723.4L1812.3 722.2L1813.5 721.0L1814.8 719.8L1816.0 718.8L1817.2 717.8L1818.5 716.9L1819.7 716.3L1821.0 715.9L1822.2 715.7L1823.5 715.7L1824.7 715.9L1825.9 716.4L1827.2 717.1L1828.4 717.9L1829.7 718.9L1830.9 720.0L1832.2 721.2L1833.4 722.4L1834.6 723.5L1835.9 724.6L1837.1 725.6L1838.4 726.4L1839.6 727.0L1840.9 727.5L1842.1 727.7L1843.3 727.7L1844.6 727.4L1845.8 726.9L1847.1 726.3L1848.3 725.4L1849.6 724.4L1850.8 723.3L1852.0 722.1L1853.3 721.0L1854.5 719.8L1855.8 718.7L1857.0 717.8L1858.3 716.9L1859.5 716.3L1860.7 715.9L1862.0 715.7L1863.2 715.7L1864.5 715.9L1865.7 716.4L1867.0 717.1L1868.2 717.9L1869.4 718.9L1870.7 720.0L1871.9 721.2L1873.2 722.4L1874.4 723.5L1875.7 724.6L1876.9 725.6L1878.1 726.4L1879.4 727.0L1880.6 727.5L1881.9 727.7L1883.1 727.7L1884.4 727.4L1885.6 726.9L1886.8 726.3L1888.1 725.4L1889.3 724.4L1890.6 723.3L1891.8 722.1L1893.1 721.0L1894.3 719.8L1895.5 718.7L1896.8 717.8L1898.0 716.9L1899.3 716.3L1900.5 715.9L1901.8 715.7L1903.0 715.7L1904.2 715.9L1905.5 716.4L1906.7 717.1L1908.0 717.9L1909.2 718.9L1910.5 720.0L1911.7 721.2L1912.9 722.4L1914.2 723.5L1915.4 724.6L1916.7 725.6L1917.9 726.4L1919.2 727.0L1920.4 727.5L1921.6 727.7L1922.9 727.7L1924.1 727.4L1925.4 726.9L1926.6 726.3L1927.9 725.4L1929.1 724.4" stroke="#e8a920" stroke-width="4.4" stroke-dasharray="18.8 3.6 9.7 4.5"/>
</g>
<text class="tk" text-anchor="middle" transform="translate(186.3 1449.5) scale(0.9 1)">0</text>
<text class="tk" text-anchor="middle" transform="translate(434.9 1449.5) scale(0.9 1)">10</text>
<text class="tk" text-anchor="middle" transform="translate(683.4 1449.5) scale(0.9 1)">20</text>
<text class="tk" text-anchor="middle" transform="translate(932.0 1449.5) scale(0.9 1)">30</text>
<text class="tk" text-anchor="middle" transform="translate(1180.6 1449.5) scale(0.9 1)">40</text>
<text class="tk" text-anchor="middle" transform="translate(1429.2 1449.5) scale(0.9 1)">50</text>
<text class="tk" text-anchor="middle" transform="translate(1677.7 1449.5) scale(0.9 1)">60</text>
<text class="tk" text-anchor="middle" transform="translate(1926.3 1449.5) scale(0.9 1)">70</text>
<text class="tk" text-anchor="end" transform="translate(167.3 1401.9) scale(0.9 1)">-4</text>
<text class="tk" text-anchor="end" transform="translate(167.3 1236.8) scale(0.9 1)">-3</text>
<text class="tk" text-anchor="end" transform="translate(167.3 1071.6) scale(0.9 1)">-2</text>
<text class="tk" text-anchor="end" transform="translate(167.3 906.4) scale(0.9 1)">-1</text>
<text class="tk" text-anchor="end" transform="translate(167.3 741.3) scale(0.9 1)">0</text>
<text class="tk" text-anchor="end" transform="translate(167.3 576.1) scale(0.9 1)">1</text>
<text class="tk" text-anchor="end" transform="translate(167.3 411.0) scale(0.9 1)">2</text>
<text class="tk" text-anchor="end" transform="translate(167.3 245.8) scale(0.9 1)">3</text>
<text class="tk" text-anchor="end" transform="translate(167.3 80.7) scale(0.9 1)">4</text>
<text class="lb" font-size="54" text-anchor="middle" stroke="#404040" stroke-width="0.2" transform="translate(1049.2 1514.4) scale(1.288 1)">Time(s)</text>
<text class="lb" font-size="63.7" text-anchor="middle" transform="translate(94.8 702.2) rotate(-90) scale(1 1.305)">Disturbance(deg)</text>
<rect x="1247.9" y="94.1" width="647.5" height="214.7" fill="#fff" stroke="#4a4747" stroke-width="3.2"/>
<path d="M1329.8 132.5H1528.4" stroke="#0f72bd" stroke-width="4.3" fill="none"/>
<path d="M1329.8 198.9H1528.4" stroke="#d95319" stroke-width="4.3" stroke-dasharray="27.2 25.6" fill="none"/>
<path d="M1329.8 267.7H1528.4" stroke="#e8a920" stroke-width="4.3" stroke-dasharray="27.2 5.2 13.9 6.5" fill="none"/>
<g><text class="mi" font-size="46.0" stroke="#000" stroke-width="0.45" transform="translate(1543.3 145.1) scale(1.310 1.000)">d</text><text class="mr" font-size="50.7" stroke="#000" stroke-width="0.70" transform="translate(1578.0 144.7) scale(1.000 1.000)">(</text><text class="mi" font-size="50.0" stroke="#000" stroke-width="0.25" transform="translate(1596.1 145.6) scale(1.430 1.000)">t</text><text class="mr" font-size="50.7" stroke="#000" stroke-width="0.70" transform="translate(1620.0 144.7) scale(1.000 1.000)">)</text></g>
<g><text class="mi" font-size="46.0" stroke="#000" stroke-width="0.45" transform="translate(1543.3 213.0) scale(1.310 1.000)">d</text><text class="mr" font-size="50.0" transform="translate(1560.0 203.9) scale(1.000 1.000)">ˆ</text><text class="mr" font-size="50.7" stroke="#000" stroke-width="0.70" transform="translate(1578.0 212.6) scale(1.000 1.000)">(</text><text class="mi" font-size="50.0" stroke="#000" stroke-width="0.25" transform="translate(1596.1 213.5) scale(1.430 1.000)">t</text><text class="mr" font-size="50.7" stroke="#000" stroke-width="0.70" transform="translate(1620.0 212.6) scale(1.000 1.000)">)</text></g>
<g><text class="mi" font-size="46.0" stroke="#000" stroke-width="0.45" transform="translate(1543.3 281.6) scale(1.310 1.000)">d</text><text class="mr" font-size="50.0" transform="translate(1560.0 272.5) scale(1.000 1.000)">ˆ</text><text class="mr" font-size="50.7" stroke="#000" stroke-width="0.70" transform="translate(1578.0 281.2) scale(1.000 1.000)">(</text><text class="mi" font-size="50.0" stroke="#000" stroke-width="0.25" transform="translate(1596.1 282.1) scale(1.430 1.000)">t</text><text class="mr" font-size="50.7" stroke="#000" stroke-width="0.70" transform="translate(1620.0 281.2) scale(1.000 1.000)">)</text><text class="mr" font-size="50.0" transform="translate(1656.5 282.7) scale(1.550 0.800)">−</text><text class="mi" font-size="46.0" stroke="#000" stroke-width="0.45" transform="translate(1715.3 281.6) scale(1.310 1.000)">d</text><text class="mr" font-size="50.7" stroke="#000" stroke-width="0.70" transform="translate(1750.0 281.2) scale(1.000 1.000)">(</text><text class="mi" font-size="50.0" stroke="#000" stroke-width="0.25" transform="translate(1768.1 282.1) scale(1.430 1.000)">t</text><text class="mr" font-size="50.7" stroke="#000" stroke-width="0.70" transform="translate(1792.0 281.2) scale(1.000 1.000)">)</text></g>
</svg></body></html>
